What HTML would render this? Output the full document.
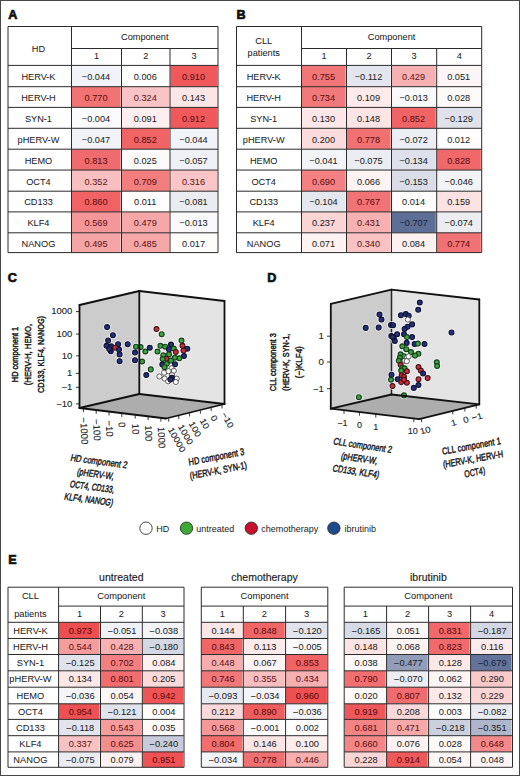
<!DOCTYPE html>
<html><head><meta charset="utf-8"><style>
html,body{margin:0;padding:0;background:#fff;}
svg{display:block;}
text{font-family:"Liberation Sans", sans-serif;}
</style></head><body>
<svg width="520" height="776" viewBox="0 0 520 776" font-family='"Liberation Sans", sans-serif'>
<rect x="0" y="0" width="520" height="776" fill="#fff"/>
<text x="8.20" y="18.80" font-size="12.6" text-anchor="start" fill="#111" font-weight="bold" stroke="#111" stroke-width="0.7">A</text>
<text x="236.50" y="18.80" font-size="12.6" text-anchor="start" fill="#111" font-weight="bold" stroke="#111" stroke-width="0.7">B</text>
<text x="7.80" y="282.00" font-size="12.6" text-anchor="start" fill="#111" font-weight="bold" stroke="#111" stroke-width="0.7">C</text>
<text x="267.20" y="281.80" font-size="12.6" text-anchor="start" fill="#111" font-weight="bold" stroke="#111" stroke-width="0.7">D</text>
<text x="8.20" y="563.80" font-size="12.6" text-anchor="start" fill="#111" font-weight="bold" stroke="#111" stroke-width="0.7">E</text>
<rect x="71.90" y="65.40" width="48.70" height="21.30" fill="#f2f3f8"/>
<rect x="121.90" y="65.40" width="47.20" height="21.30" fill="#fffefe"/>
<rect x="170.40" y="65.40" width="46.70" height="21.30" fill="#ef595b"/>
<rect x="71.90" y="86.70" width="48.70" height="20.70" fill="#f17374"/>
<rect x="121.90" y="86.70" width="47.20" height="20.70" fill="#f9c4c5"/>
<rect x="170.40" y="86.70" width="46.70" height="20.70" fill="#fce5e5"/>
<rect x="71.90" y="107.40" width="48.70" height="20.90" fill="#fbfbfd"/>
<rect x="121.90" y="107.40" width="47.20" height="20.90" fill="#fdeeef"/>
<rect x="170.40" y="107.40" width="46.70" height="20.90" fill="#ef595b"/>
<rect x="71.90" y="128.30" width="48.70" height="20.90" fill="#f1f3f7"/>
<rect x="121.90" y="128.30" width="47.20" height="20.90" fill="#f06466"/>
<rect x="170.40" y="128.30" width="46.70" height="20.90" fill="#f2f3f8"/>
<rect x="71.90" y="149.20" width="48.70" height="20.85" fill="#f06b6d"/>
<rect x="121.90" y="149.20" width="47.20" height="20.85" fill="#fffafa"/>
<rect x="170.40" y="149.20" width="46.70" height="20.85" fill="#eff1f6"/>
<rect x="71.90" y="170.05" width="48.70" height="21.15" fill="#f9bfc0"/>
<rect x="121.90" y="170.05" width="47.20" height="21.15" fill="#f27e7f"/>
<rect x="170.40" y="170.05" width="46.70" height="21.15" fill="#f9c5c6"/>
<rect x="71.90" y="191.20" width="48.70" height="20.70" fill="#f06264"/>
<rect x="121.90" y="191.20" width="47.20" height="20.70" fill="#fffdfd"/>
<rect x="170.40" y="191.20" width="46.70" height="20.70" fill="#eaecf2"/>
<rect x="71.90" y="211.90" width="48.70" height="20.90" fill="#f59799"/>
<rect x="121.90" y="211.90" width="47.20" height="20.90" fill="#f6a8a9"/>
<rect x="170.40" y="211.90" width="46.70" height="20.90" fill="#f9f9fc"/>
<rect x="71.90" y="232.80" width="48.70" height="19.80" fill="#f6a5a6"/>
<rect x="121.90" y="232.80" width="47.20" height="19.80" fill="#f6a7a8"/>
<rect x="170.40" y="232.80" width="46.70" height="19.80" fill="#fffcfc"/>
<line x1="8" y1="26.5" x2="218" y2="26.5" stroke="#2b2b2b" stroke-width="1.0"/>
<line x1="71.5" y1="48.5" x2="218" y2="48.5" stroke="#2b2b2b" stroke-width="1.0"/>
<line x1="8" y1="65.4" x2="218" y2="65.4" stroke="#2b2b2b" stroke-width="1.0"/>
<line x1="8" y1="86.7" x2="218" y2="86.7" stroke="#2b2b2b" stroke-width="1.0"/>
<line x1="8" y1="107.4" x2="218" y2="107.4" stroke="#2b2b2b" stroke-width="1.0"/>
<line x1="8" y1="128.3" x2="218" y2="128.3" stroke="#2b2b2b" stroke-width="1.0"/>
<line x1="8" y1="149.2" x2="218" y2="149.2" stroke="#2b2b2b" stroke-width="1.0"/>
<line x1="8" y1="170.05" x2="218" y2="170.05" stroke="#2b2b2b" stroke-width="1.0"/>
<line x1="8" y1="191.2" x2="218" y2="191.2" stroke="#2b2b2b" stroke-width="1.0"/>
<line x1="8" y1="211.9" x2="218" y2="211.9" stroke="#2b2b2b" stroke-width="1.0"/>
<line x1="8" y1="232.8" x2="218" y2="232.8" stroke="#2b2b2b" stroke-width="1.0"/>
<line x1="8" y1="252.6" x2="218" y2="252.6" stroke="#2b2b2b" stroke-width="1.0"/>
<line x1="8" y1="26.5" x2="8" y2="252.6" stroke="#2b2b2b" stroke-width="1.0"/>
<line x1="71.5" y1="26.5" x2="71.5" y2="252.6" stroke="#2b2b2b" stroke-width="1.0"/>
<line x1="121.5" y1="48.5" x2="121.5" y2="252.6" stroke="#2b2b2b" stroke-width="1.0"/>
<line x1="170" y1="48.5" x2="170" y2="252.6" stroke="#2b2b2b" stroke-width="1.0"/>
<line x1="218" y1="26.5" x2="218" y2="252.6" stroke="#2b2b2b" stroke-width="1.0"/>
<text x="0" y="0" font-size="9.20" text-anchor="middle" fill="#222" stroke="#222" stroke-width="0.04" transform="translate(144.75 39.80) scale(1.000 1.0)">Component</text>
<text x="0" y="0" font-size="9.20" text-anchor="middle" fill="#222" stroke="#222" stroke-width="0.04" transform="translate(96.50 58.86) scale(1.000 1.0)">1</text>
<text x="0" y="0" font-size="9.20" text-anchor="middle" fill="#222" stroke="#222" stroke-width="0.04" transform="translate(145.75 58.86) scale(1.000 1.0)">2</text>
<text x="0" y="0" font-size="9.20" text-anchor="middle" fill="#222" stroke="#222" stroke-width="0.04" transform="translate(194.00 58.86) scale(1.000 1.0)">3</text>
<text x="0" y="0" font-size="9.20" text-anchor="middle" fill="#222" stroke="#222" stroke-width="0.04" transform="translate(38.45 52.20) scale(1.000 1.0)">HD</text>
<text x="0" y="0" font-size="9.20" text-anchor="middle" fill="#222" stroke="#222" stroke-width="0.04" transform="translate(38.45 79.99) scale(1.000 1.0)">HERV-K</text>
<text x="0" y="0" font-size="9.20" text-anchor="middle" fill="#222" stroke="#222" stroke-width="0.04" transform="translate(38.45 100.99) scale(1.000 1.0)">HERV-H</text>
<text x="0" y="0" font-size="9.20" text-anchor="middle" fill="#222" stroke="#222" stroke-width="0.04" transform="translate(38.45 121.79) scale(1.000 1.0)">SYN-1</text>
<text x="0" y="0" font-size="9.20" text-anchor="middle" fill="#222" stroke="#222" stroke-width="0.04" transform="translate(38.45 142.69) scale(1.000 1.0)">pHERV-W</text>
<text x="0" y="0" font-size="9.20" text-anchor="middle" fill="#222" stroke="#222" stroke-width="0.04" transform="translate(38.45 163.57) scale(1.000 1.0)">HEMO</text>
<text x="0" y="0" font-size="9.20" text-anchor="middle" fill="#222" stroke="#222" stroke-width="0.04" transform="translate(38.45 184.57) scale(1.000 1.0)">OCT4</text>
<text x="0" y="0" font-size="9.20" text-anchor="middle" fill="#222" stroke="#222" stroke-width="0.04" transform="translate(38.45 205.49) scale(1.000 1.0)">CD133</text>
<text x="0" y="0" font-size="9.20" text-anchor="middle" fill="#222" stroke="#222" stroke-width="0.04" transform="translate(38.45 226.29) scale(1.000 1.0)">KLF4</text>
<text x="0" y="0" font-size="9.20" text-anchor="middle" fill="#222" stroke="#222" stroke-width="0.04" transform="translate(38.45 246.64) scale(1.000 1.0)">NANOG</text>
<text x="0" y="0" font-size="9.20" text-anchor="middle" fill="#1c1c1c" stroke="#1c1c1c" stroke-width="0.04" transform="translate(96.00 79.99) scale(1.000 1.0)">&#8722;0.044</text>
<text x="0" y="0" font-size="9.20" text-anchor="middle" fill="#1c1c1c" stroke="#1c1c1c" stroke-width="0.04" transform="translate(145.25 79.99) scale(1.000 1.0)">0.006</text>
<text x="0" y="0" font-size="9.20" text-anchor="middle" fill="#5b0b0d" stroke="#5b0b0d" stroke-width="0.04" transform="translate(193.50 79.99) scale(1.000 1.0)">0.910</text>
<text x="0" y="0" font-size="9.20" text-anchor="middle" fill="#5c0e10" stroke="#5c0e10" stroke-width="0.04" transform="translate(96.00 100.99) scale(1.000 1.0)">0.770</text>
<text x="0" y="0" font-size="9.20" text-anchor="middle" fill="#5f181c" stroke="#5f181c" stroke-width="0.04" transform="translate(145.25 100.99) scale(1.000 1.0)">0.324</text>
<text x="0" y="0" font-size="9.20" text-anchor="middle" fill="#1c1c1c" stroke="#1c1c1c" stroke-width="0.04" transform="translate(193.50 100.99) scale(1.000 1.0)">0.143</text>
<text x="0" y="0" font-size="9.20" text-anchor="middle" fill="#1c1c1c" stroke="#1c1c1c" stroke-width="0.04" transform="translate(96.00 121.79) scale(1.000 1.0)">&#8722;0.004</text>
<text x="0" y="0" font-size="9.20" text-anchor="middle" fill="#1c1c1c" stroke="#1c1c1c" stroke-width="0.04" transform="translate(145.25 121.79) scale(1.000 1.0)">0.091</text>
<text x="0" y="0" font-size="9.20" text-anchor="middle" fill="#5b0b0d" stroke="#5b0b0d" stroke-width="0.04" transform="translate(193.50 121.79) scale(1.000 1.0)">0.912</text>
<text x="0" y="0" font-size="9.20" text-anchor="middle" fill="#1c1c1c" stroke="#1c1c1c" stroke-width="0.04" transform="translate(96.00 142.69) scale(1.000 1.0)">&#8722;0.047</text>
<text x="0" y="0" font-size="9.20" text-anchor="middle" fill="#5b0c0e" stroke="#5b0c0e" stroke-width="0.04" transform="translate(145.25 142.69) scale(1.000 1.0)">0.852</text>
<text x="0" y="0" font-size="9.20" text-anchor="middle" fill="#1c1c1c" stroke="#1c1c1c" stroke-width="0.04" transform="translate(193.50 142.69) scale(1.000 1.0)">&#8722;0.044</text>
<text x="0" y="0" font-size="9.20" text-anchor="middle" fill="#5b0d0f" stroke="#5b0d0f" stroke-width="0.04" transform="translate(96.00 163.57) scale(1.000 1.0)">0.813</text>
<text x="0" y="0" font-size="9.20" text-anchor="middle" fill="#1c1c1c" stroke="#1c1c1c" stroke-width="0.04" transform="translate(145.25 163.57) scale(1.000 1.0)">0.025</text>
<text x="0" y="0" font-size="9.20" text-anchor="middle" fill="#1c1c1c" stroke="#1c1c1c" stroke-width="0.04" transform="translate(193.50 163.57) scale(1.000 1.0)">&#8722;0.057</text>
<text x="0" y="0" font-size="9.20" text-anchor="middle" fill="#5e171b" stroke="#5e171b" stroke-width="0.04" transform="translate(96.00 184.57) scale(1.000 1.0)">0.352</text>
<text x="0" y="0" font-size="9.20" text-anchor="middle" fill="#5c0f12" stroke="#5c0f12" stroke-width="0.04" transform="translate(145.25 184.57) scale(1.000 1.0)">0.709</text>
<text x="0" y="0" font-size="9.20" text-anchor="middle" fill="#5f181c" stroke="#5f181c" stroke-width="0.04" transform="translate(193.50 184.57) scale(1.000 1.0)">0.316</text>
<text x="0" y="0" font-size="9.20" text-anchor="middle" fill="#5b0c0e" stroke="#5b0c0e" stroke-width="0.04" transform="translate(96.00 205.49) scale(1.000 1.0)">0.860</text>
<text x="0" y="0" font-size="9.20" text-anchor="middle" fill="#1c1c1c" stroke="#1c1c1c" stroke-width="0.04" transform="translate(145.25 205.49) scale(1.000 1.0)">0.011</text>
<text x="0" y="0" font-size="9.20" text-anchor="middle" fill="#1c1c1c" stroke="#1c1c1c" stroke-width="0.04" transform="translate(193.50 205.49) scale(1.000 1.0)">&#8722;0.081</text>
<text x="0" y="0" font-size="9.20" text-anchor="middle" fill="#5d1215" stroke="#5d1215" stroke-width="0.04" transform="translate(96.00 226.29) scale(1.000 1.0)">0.569</text>
<text x="0" y="0" font-size="9.20" text-anchor="middle" fill="#5e1418" stroke="#5e1418" stroke-width="0.04" transform="translate(145.25 226.29) scale(1.000 1.0)">0.479</text>
<text x="0" y="0" font-size="9.20" text-anchor="middle" fill="#1c1c1c" stroke="#1c1c1c" stroke-width="0.04" transform="translate(193.50 226.29) scale(1.000 1.0)">&#8722;0.013</text>
<text x="0" y="0" font-size="9.20" text-anchor="middle" fill="#5e1417" stroke="#5e1417" stroke-width="0.04" transform="translate(96.00 246.64) scale(1.000 1.0)">0.495</text>
<text x="0" y="0" font-size="9.20" text-anchor="middle" fill="#5e1417" stroke="#5e1417" stroke-width="0.04" transform="translate(145.25 246.64) scale(1.000 1.0)">0.485</text>
<text x="0" y="0" font-size="9.20" text-anchor="middle" fill="#1c1c1c" stroke="#1c1c1c" stroke-width="0.04" transform="translate(193.50 246.64) scale(1.000 1.0)">0.017</text>
<rect x="301.90" y="65.40" width="43.70" height="21.30" fill="#f17677"/>
<rect x="346.90" y="65.40" width="43.70" height="21.30" fill="#e3e6ee"/>
<rect x="391.90" y="65.40" width="43.90" height="21.30" fill="#f7b1b2"/>
<rect x="437.10" y="65.40" width="43.70" height="21.30" fill="#fef6f6"/>
<rect x="301.90" y="86.70" width="43.70" height="20.70" fill="#f2797b"/>
<rect x="346.90" y="86.70" width="43.70" height="20.70" fill="#fdebeb"/>
<rect x="391.90" y="86.70" width="43.90" height="20.70" fill="#f9f9fc"/>
<rect x="437.10" y="86.70" width="43.70" height="20.70" fill="#fefafa"/>
<rect x="301.90" y="107.40" width="43.70" height="20.90" fill="#fde7e8"/>
<rect x="346.90" y="107.40" width="43.70" height="20.90" fill="#fce4e4"/>
<rect x="391.90" y="107.40" width="43.90" height="20.90" fill="#f06466"/>
<rect x="437.10" y="107.40" width="43.70" height="20.90" fill="#dfe2eb"/>
<rect x="301.90" y="128.30" width="43.70" height="20.90" fill="#fbdbdb"/>
<rect x="346.90" y="128.30" width="43.70" height="20.90" fill="#f17173"/>
<rect x="391.90" y="128.30" width="43.90" height="20.90" fill="#eceef4"/>
<rect x="437.10" y="128.30" width="43.70" height="20.90" fill="#fffdfd"/>
<rect x="301.90" y="149.20" width="43.70" height="20.85" fill="#f3f4f8"/>
<rect x="346.90" y="149.20" width="43.70" height="20.85" fill="#ebedf3"/>
<rect x="391.90" y="149.20" width="43.90" height="20.85" fill="#dee1eb"/>
<rect x="437.10" y="149.20" width="43.70" height="20.85" fill="#f0686a"/>
<rect x="301.90" y="170.05" width="43.70" height="21.15" fill="#f38183"/>
<rect x="346.90" y="170.05" width="43.70" height="21.15" fill="#fef3f3"/>
<rect x="391.90" y="170.05" width="43.90" height="21.15" fill="#dadde8"/>
<rect x="437.10" y="170.05" width="43.70" height="21.15" fill="#f2f3f7"/>
<rect x="301.90" y="191.20" width="43.70" height="20.70" fill="#e5e7ef"/>
<rect x="346.90" y="191.20" width="43.70" height="20.70" fill="#f17375"/>
<rect x="391.90" y="191.20" width="43.90" height="20.70" fill="#fffcfc"/>
<rect x="437.10" y="191.20" width="43.70" height="20.70" fill="#fce2e2"/>
<rect x="301.90" y="211.90" width="43.70" height="20.90" fill="#fbd4d4"/>
<rect x="346.90" y="211.90" width="43.70" height="20.90" fill="#f7b1b1"/>
<rect x="391.90" y="211.90" width="43.90" height="20.90" fill="#5d6f97"/>
<rect x="437.10" y="211.90" width="43.70" height="20.90" fill="#ebedf3"/>
<rect x="301.90" y="232.80" width="43.70" height="19.80" fill="#fef2f2"/>
<rect x="346.90" y="232.80" width="43.70" height="19.80" fill="#f9c1c2"/>
<rect x="391.90" y="232.80" width="43.90" height="19.80" fill="#fdf0f0"/>
<rect x="437.10" y="232.80" width="43.70" height="19.80" fill="#f17274"/>
<line x1="236.5" y1="26.5" x2="481.7" y2="26.5" stroke="#2b2b2b" stroke-width="1.0"/>
<line x1="301.5" y1="48.5" x2="481.7" y2="48.5" stroke="#2b2b2b" stroke-width="1.0"/>
<line x1="236.5" y1="65.4" x2="481.7" y2="65.4" stroke="#2b2b2b" stroke-width="1.0"/>
<line x1="236.5" y1="86.7" x2="481.7" y2="86.7" stroke="#2b2b2b" stroke-width="1.0"/>
<line x1="236.5" y1="107.4" x2="481.7" y2="107.4" stroke="#2b2b2b" stroke-width="1.0"/>
<line x1="236.5" y1="128.3" x2="481.7" y2="128.3" stroke="#2b2b2b" stroke-width="1.0"/>
<line x1="236.5" y1="149.2" x2="481.7" y2="149.2" stroke="#2b2b2b" stroke-width="1.0"/>
<line x1="236.5" y1="170.05" x2="481.7" y2="170.05" stroke="#2b2b2b" stroke-width="1.0"/>
<line x1="236.5" y1="191.2" x2="481.7" y2="191.2" stroke="#2b2b2b" stroke-width="1.0"/>
<line x1="236.5" y1="211.9" x2="481.7" y2="211.9" stroke="#2b2b2b" stroke-width="1.0"/>
<line x1="236.5" y1="232.8" x2="481.7" y2="232.8" stroke="#2b2b2b" stroke-width="1.0"/>
<line x1="236.5" y1="252.6" x2="481.7" y2="252.6" stroke="#2b2b2b" stroke-width="1.0"/>
<line x1="236.5" y1="26.5" x2="236.5" y2="252.6" stroke="#2b2b2b" stroke-width="1.0"/>
<line x1="301.5" y1="26.5" x2="301.5" y2="252.6" stroke="#2b2b2b" stroke-width="1.0"/>
<line x1="346.5" y1="48.5" x2="346.5" y2="252.6" stroke="#2b2b2b" stroke-width="1.0"/>
<line x1="391.5" y1="48.5" x2="391.5" y2="252.6" stroke="#2b2b2b" stroke-width="1.0"/>
<line x1="436.7" y1="48.5" x2="436.7" y2="252.6" stroke="#2b2b2b" stroke-width="1.0"/>
<line x1="481.7" y1="26.5" x2="481.7" y2="252.6" stroke="#2b2b2b" stroke-width="1.0"/>
<text x="0" y="0" font-size="9.20" text-anchor="middle" fill="#222" stroke="#222" stroke-width="0.04" transform="translate(391.60 39.80) scale(1.000 1.0)">Component</text>
<text x="0" y="0" font-size="9.20" text-anchor="middle" fill="#222" stroke="#222" stroke-width="0.04" transform="translate(324.00 58.86) scale(1.000 1.0)">1</text>
<text x="0" y="0" font-size="9.20" text-anchor="middle" fill="#222" stroke="#222" stroke-width="0.04" transform="translate(369.00 58.86) scale(1.000 1.0)">2</text>
<text x="0" y="0" font-size="9.20" text-anchor="middle" fill="#222" stroke="#222" stroke-width="0.04" transform="translate(414.10 58.86) scale(1.000 1.0)">3</text>
<text x="0" y="0" font-size="9.20" text-anchor="middle" fill="#222" stroke="#222" stroke-width="0.04" transform="translate(459.20 58.86) scale(1.000 1.0)">4</text>
<text x="0" y="0" font-size="9.20" text-anchor="middle" fill="#222" stroke="#222" stroke-width="0.04" transform="translate(263.70 44.30) scale(1.000 1.0)">CLL</text>
<text x="0" y="0" font-size="9.20" text-anchor="middle" fill="#222" stroke="#222" stroke-width="0.04" transform="translate(263.70 56.30) scale(1.000 1.0)">patients</text>
<text x="0" y="0" font-size="9.20" text-anchor="middle" fill="#222" stroke="#222" stroke-width="0.04" transform="translate(263.70 79.99) scale(1.000 1.0)">HERV-K</text>
<text x="0" y="0" font-size="9.20" text-anchor="middle" fill="#222" stroke="#222" stroke-width="0.04" transform="translate(263.70 100.99) scale(1.000 1.0)">HERV-H</text>
<text x="0" y="0" font-size="9.20" text-anchor="middle" fill="#222" stroke="#222" stroke-width="0.04" transform="translate(263.70 121.79) scale(1.000 1.0)">SYN-1</text>
<text x="0" y="0" font-size="9.20" text-anchor="middle" fill="#222" stroke="#222" stroke-width="0.04" transform="translate(263.70 142.69) scale(1.000 1.0)">pHERV-W</text>
<text x="0" y="0" font-size="9.20" text-anchor="middle" fill="#222" stroke="#222" stroke-width="0.04" transform="translate(263.70 163.57) scale(1.000 1.0)">HEMO</text>
<text x="0" y="0" font-size="9.20" text-anchor="middle" fill="#222" stroke="#222" stroke-width="0.04" transform="translate(263.70 184.57) scale(1.000 1.0)">OCT4</text>
<text x="0" y="0" font-size="9.20" text-anchor="middle" fill="#222" stroke="#222" stroke-width="0.04" transform="translate(263.70 205.49) scale(1.000 1.0)">CD133</text>
<text x="0" y="0" font-size="9.20" text-anchor="middle" fill="#222" stroke="#222" stroke-width="0.04" transform="translate(263.70 226.29) scale(1.000 1.0)">KLF4</text>
<text x="0" y="0" font-size="9.20" text-anchor="middle" fill="#222" stroke="#222" stroke-width="0.04" transform="translate(263.70 246.64) scale(1.000 1.0)">NANOG</text>
<text x="0" y="0" font-size="9.20" text-anchor="middle" fill="#5c0e11" stroke="#5c0e11" stroke-width="0.04" transform="translate(323.50 79.99) scale(1.000 1.0)">0.755</text>
<text x="0" y="0" font-size="9.20" text-anchor="middle" fill="#1c1c1c" stroke="#1c1c1c" stroke-width="0.04" transform="translate(368.50 79.99) scale(1.000 1.0)">&#8722;0.112</text>
<text x="0" y="0" font-size="9.20" text-anchor="middle" fill="#5e1519" stroke="#5e1519" stroke-width="0.04" transform="translate(413.60 79.99) scale(1.000 1.0)">0.429</text>
<text x="0" y="0" font-size="9.20" text-anchor="middle" fill="#1c1c1c" stroke="#1c1c1c" stroke-width="0.04" transform="translate(458.70 79.99) scale(1.000 1.0)">0.051</text>
<text x="0" y="0" font-size="9.20" text-anchor="middle" fill="#5c0f11" stroke="#5c0f11" stroke-width="0.04" transform="translate(323.50 100.99) scale(1.000 1.0)">0.734</text>
<text x="0" y="0" font-size="9.20" text-anchor="middle" fill="#1c1c1c" stroke="#1c1c1c" stroke-width="0.04" transform="translate(368.50 100.99) scale(1.000 1.0)">0.109</text>
<text x="0" y="0" font-size="9.20" text-anchor="middle" fill="#1c1c1c" stroke="#1c1c1c" stroke-width="0.04" transform="translate(413.60 100.99) scale(1.000 1.0)">&#8722;0.013</text>
<text x="0" y="0" font-size="9.20" text-anchor="middle" fill="#1c1c1c" stroke="#1c1c1c" stroke-width="0.04" transform="translate(458.70 100.99) scale(1.000 1.0)">0.028</text>
<text x="0" y="0" font-size="9.20" text-anchor="middle" fill="#1c1c1c" stroke="#1c1c1c" stroke-width="0.04" transform="translate(323.50 121.79) scale(1.000 1.0)">0.130</text>
<text x="0" y="0" font-size="9.20" text-anchor="middle" fill="#1c1c1c" stroke="#1c1c1c" stroke-width="0.04" transform="translate(368.50 121.79) scale(1.000 1.0)">0.148</text>
<text x="0" y="0" font-size="9.20" text-anchor="middle" fill="#5b0c0e" stroke="#5b0c0e" stroke-width="0.04" transform="translate(413.60 121.79) scale(1.000 1.0)">0.852</text>
<text x="0" y="0" font-size="9.20" text-anchor="middle" fill="#1c1c1c" stroke="#1c1c1c" stroke-width="0.04" transform="translate(458.70 121.79) scale(1.000 1.0)">&#8722;0.129</text>
<text x="0" y="0" font-size="9.20" text-anchor="middle" fill="#1c1c1c" stroke="#1c1c1c" stroke-width="0.04" transform="translate(323.50 142.69) scale(1.000 1.0)">0.200</text>
<text x="0" y="0" font-size="9.20" text-anchor="middle" fill="#5c0e10" stroke="#5c0e10" stroke-width="0.04" transform="translate(368.50 142.69) scale(1.000 1.0)">0.778</text>
<text x="0" y="0" font-size="9.20" text-anchor="middle" fill="#1c1c1c" stroke="#1c1c1c" stroke-width="0.04" transform="translate(413.60 142.69) scale(1.000 1.0)">&#8722;0.072</text>
<text x="0" y="0" font-size="9.20" text-anchor="middle" fill="#1c1c1c" stroke="#1c1c1c" stroke-width="0.04" transform="translate(458.70 142.69) scale(1.000 1.0)">0.012</text>
<text x="0" y="0" font-size="9.20" text-anchor="middle" fill="#1c1c1c" stroke="#1c1c1c" stroke-width="0.04" transform="translate(323.50 163.57) scale(1.000 1.0)">&#8722;0.041</text>
<text x="0" y="0" font-size="9.20" text-anchor="middle" fill="#1c1c1c" stroke="#1c1c1c" stroke-width="0.04" transform="translate(368.50 163.57) scale(1.000 1.0)">&#8722;0.075</text>
<text x="0" y="0" font-size="9.20" text-anchor="middle" fill="#1c1c1c" stroke="#1c1c1c" stroke-width="0.04" transform="translate(413.60 163.57) scale(1.000 1.0)">&#8722;0.134</text>
<text x="0" y="0" font-size="9.20" text-anchor="middle" fill="#5b0d0f" stroke="#5b0d0f" stroke-width="0.04" transform="translate(458.70 163.57) scale(1.000 1.0)">0.828</text>
<text x="0" y="0" font-size="9.20" text-anchor="middle" fill="#5c1012" stroke="#5c1012" stroke-width="0.04" transform="translate(323.50 184.57) scale(1.000 1.0)">0.690</text>
<text x="0" y="0" font-size="9.20" text-anchor="middle" fill="#1c1c1c" stroke="#1c1c1c" stroke-width="0.04" transform="translate(368.50 184.57) scale(1.000 1.0)">0.066</text>
<text x="0" y="0" font-size="9.20" text-anchor="middle" fill="#1c1c1c" stroke="#1c1c1c" stroke-width="0.04" transform="translate(413.60 184.57) scale(1.000 1.0)">&#8722;0.153</text>
<text x="0" y="0" font-size="9.20" text-anchor="middle" fill="#1c1c1c" stroke="#1c1c1c" stroke-width="0.04" transform="translate(458.70 184.57) scale(1.000 1.0)">&#8722;0.046</text>
<text x="0" y="0" font-size="9.20" text-anchor="middle" fill="#1c1c1c" stroke="#1c1c1c" stroke-width="0.04" transform="translate(323.50 205.49) scale(1.000 1.0)">&#8722;0.104</text>
<text x="0" y="0" font-size="9.20" text-anchor="middle" fill="#5c0e10" stroke="#5c0e10" stroke-width="0.04" transform="translate(368.50 205.49) scale(1.000 1.0)">0.767</text>
<text x="0" y="0" font-size="9.20" text-anchor="middle" fill="#1c1c1c" stroke="#1c1c1c" stroke-width="0.04" transform="translate(413.60 205.49) scale(1.000 1.0)">0.014</text>
<text x="0" y="0" font-size="9.20" text-anchor="middle" fill="#1c1c1c" stroke="#1c1c1c" stroke-width="0.04" transform="translate(458.70 205.49) scale(1.000 1.0)">0.159</text>
<text x="0" y="0" font-size="9.20" text-anchor="middle" fill="#1c1c1c" stroke="#1c1c1c" stroke-width="0.04" transform="translate(323.50 226.29) scale(1.000 1.0)">0.237</text>
<text x="0" y="0" font-size="9.20" text-anchor="middle" fill="#5e1519" stroke="#5e1519" stroke-width="0.04" transform="translate(368.50 226.29) scale(1.000 1.0)">0.431</text>
<text x="0" y="0" font-size="9.20" text-anchor="middle" fill="#1a2038" stroke="#1a2038" stroke-width="0.04" transform="translate(413.60 226.29) scale(1.000 1.0)">&#8722;0.707</text>
<text x="0" y="0" font-size="9.20" text-anchor="middle" fill="#1c1c1c" stroke="#1c1c1c" stroke-width="0.04" transform="translate(458.70 226.29) scale(1.000 1.0)">&#8722;0.074</text>
<text x="0" y="0" font-size="9.20" text-anchor="middle" fill="#1c1c1c" stroke="#1c1c1c" stroke-width="0.04" transform="translate(323.50 246.64) scale(1.000 1.0)">0.071</text>
<text x="0" y="0" font-size="9.20" text-anchor="middle" fill="#5f171b" stroke="#5f171b" stroke-width="0.04" transform="translate(368.50 246.64) scale(1.000 1.0)">0.340</text>
<text x="0" y="0" font-size="9.20" text-anchor="middle" fill="#1c1c1c" stroke="#1c1c1c" stroke-width="0.04" transform="translate(413.60 246.64) scale(1.000 1.0)">0.084</text>
<text x="0" y="0" font-size="9.20" text-anchor="middle" fill="#5c0e10" stroke="#5c0e10" stroke-width="0.04" transform="translate(458.70 246.64) scale(1.000 1.0)">0.774</text>
<rect x="59.00" y="622.30" width="40.60" height="16.20" fill="#ed4e50"/>
<rect x="100.90" y="622.30" width="40.50" height="16.20" fill="#f1f2f7"/>
<rect x="142.70" y="622.30" width="40.40" height="16.20" fill="#f3f4f8"/>
<rect x="59.00" y="638.50" width="40.60" height="16.00" fill="#f59c9d"/>
<rect x="100.90" y="638.50" width="40.50" height="16.00" fill="#f7b1b2"/>
<rect x="142.70" y="638.50" width="40.40" height="16.00" fill="#d4d8e4"/>
<rect x="59.00" y="654.50" width="40.60" height="16.30" fill="#e0e3ec"/>
<rect x="100.90" y="654.50" width="40.50" height="16.30" fill="#f27f81"/>
<rect x="142.70" y="654.50" width="40.40" height="16.30" fill="#fdf0f0"/>
<rect x="59.00" y="670.80" width="40.60" height="16.40" fill="#fde7e7"/>
<rect x="100.90" y="670.80" width="40.50" height="16.40" fill="#f16d6f"/>
<rect x="142.70" y="670.80" width="40.40" height="16.40" fill="#fbdada"/>
<rect x="59.00" y="687.20" width="40.60" height="16.60" fill="#f4f5f9"/>
<rect x="100.90" y="687.20" width="40.50" height="16.60" fill="#fef5f5"/>
<rect x="142.70" y="687.20" width="40.40" height="16.60" fill="#ee5455"/>
<rect x="59.00" y="703.80" width="40.60" height="15.60" fill="#ee5153"/>
<rect x="100.90" y="703.80" width="40.50" height="15.60" fill="#e1e4ec"/>
<rect x="142.70" y="703.80" width="40.40" height="15.60" fill="#fffefe"/>
<rect x="59.00" y="719.40" width="40.60" height="16.30" fill="#e1e4ed"/>
<rect x="100.90" y="719.40" width="40.50" height="16.30" fill="#f59c9d"/>
<rect x="142.70" y="719.40" width="40.40" height="16.30" fill="#fef9f9"/>
<rect x="59.00" y="735.70" width="40.60" height="16.20" fill="#f9c2c2"/>
<rect x="100.90" y="735.70" width="40.50" height="16.20" fill="#f48d8e"/>
<rect x="142.70" y="735.70" width="40.40" height="16.20" fill="#c6ccdb"/>
<rect x="59.00" y="751.90" width="40.60" height="15.40" fill="#ebedf3"/>
<rect x="100.90" y="751.90" width="40.50" height="15.40" fill="#fef1f1"/>
<rect x="142.70" y="751.90" width="40.40" height="15.40" fill="#ee5254"/>
<line x1="8" y1="587.2" x2="184" y2="587.2" stroke="#2b2b2b" stroke-width="1.0"/>
<line x1="58.6" y1="606.1" x2="184" y2="606.1" stroke="#2b2b2b" stroke-width="1.0"/>
<line x1="8" y1="622.3" x2="184" y2="622.3" stroke="#2b2b2b" stroke-width="1.0"/>
<line x1="8" y1="638.5" x2="184" y2="638.5" stroke="#2b2b2b" stroke-width="1.0"/>
<line x1="8" y1="654.5" x2="184" y2="654.5" stroke="#2b2b2b" stroke-width="1.0"/>
<line x1="8" y1="670.8" x2="184" y2="670.8" stroke="#2b2b2b" stroke-width="1.0"/>
<line x1="8" y1="687.2" x2="184" y2="687.2" stroke="#2b2b2b" stroke-width="1.0"/>
<line x1="8" y1="703.8" x2="184" y2="703.8" stroke="#2b2b2b" stroke-width="1.0"/>
<line x1="8" y1="719.4" x2="184" y2="719.4" stroke="#2b2b2b" stroke-width="1.0"/>
<line x1="8" y1="735.7" x2="184" y2="735.7" stroke="#2b2b2b" stroke-width="1.0"/>
<line x1="8" y1="751.9" x2="184" y2="751.9" stroke="#2b2b2b" stroke-width="1.0"/>
<line x1="8" y1="767.3" x2="184" y2="767.3" stroke="#2b2b2b" stroke-width="1.0"/>
<line x1="8" y1="587.2" x2="8" y2="767.3" stroke="#2b2b2b" stroke-width="1.0"/>
<line x1="58.6" y1="587.2" x2="58.6" y2="767.3" stroke="#2b2b2b" stroke-width="1.0"/>
<line x1="100.5" y1="606.1" x2="100.5" y2="767.3" stroke="#2b2b2b" stroke-width="1.0"/>
<line x1="142.3" y1="606.1" x2="142.3" y2="767.3" stroke="#2b2b2b" stroke-width="1.0"/>
<line x1="184" y1="587.2" x2="184" y2="767.3" stroke="#2b2b2b" stroke-width="1.0"/>
<text x="0" y="0" font-size="9.30" text-anchor="middle" fill="#222" stroke="#222" stroke-width="0.04" transform="translate(121.30 599.40) scale(1.000 0.92)">Component</text>
<text x="0" y="0" font-size="9.30" text-anchor="middle" fill="#222" stroke="#222" stroke-width="0.04" transform="translate(79.55 617.25) scale(1.000 0.92)">1</text>
<text x="0" y="0" font-size="9.30" text-anchor="middle" fill="#222" stroke="#222" stroke-width="0.04" transform="translate(121.40 617.25) scale(1.000 0.92)">2</text>
<text x="0" y="0" font-size="9.30" text-anchor="middle" fill="#222" stroke="#222" stroke-width="0.04" transform="translate(163.15 617.25) scale(1.000 0.92)">3</text>
<text x="0" y="0" font-size="9.30" text-anchor="middle" fill="#222" stroke="#222" stroke-width="0.04" transform="translate(30.40 599.40) scale(1.000 0.92)">CLL</text>
<text x="0" y="0" font-size="9.30" text-anchor="middle" fill="#222" stroke="#222" stroke-width="0.04" transform="translate(30.40 616.80) scale(1.000 0.92)">patients</text>
<text x="0" y="0" font-size="9.30" text-anchor="middle" fill="#222" stroke="#222" stroke-width="0.04" transform="translate(30.40 633.55) scale(1.000 0.92)">HERV-K</text>
<text x="0" y="0" font-size="9.30" text-anchor="middle" fill="#222" stroke="#222" stroke-width="0.04" transform="translate(30.40 649.65) scale(1.000 0.92)">HERV-H</text>
<text x="0" y="0" font-size="9.30" text-anchor="middle" fill="#222" stroke="#222" stroke-width="0.04" transform="translate(30.40 665.80) scale(1.000 0.92)">SYN-1</text>
<text x="0" y="0" font-size="9.30" text-anchor="middle" fill="#222" stroke="#222" stroke-width="0.04" transform="translate(30.40 682.15) scale(1.000 0.92)">pHERV-W</text>
<text x="0" y="0" font-size="9.30" text-anchor="middle" fill="#222" stroke="#222" stroke-width="0.04" transform="translate(30.40 698.65) scale(1.000 0.92)">HEMO</text>
<text x="0" y="0" font-size="9.30" text-anchor="middle" fill="#222" stroke="#222" stroke-width="0.04" transform="translate(30.40 714.75) scale(1.000 0.92)">OCT4</text>
<text x="0" y="0" font-size="9.30" text-anchor="middle" fill="#222" stroke="#222" stroke-width="0.04" transform="translate(30.40 730.70) scale(1.000 0.92)">CD133</text>
<text x="0" y="0" font-size="9.30" text-anchor="middle" fill="#222" stroke="#222" stroke-width="0.04" transform="translate(30.40 746.95) scale(1.000 0.92)">KLF4</text>
<text x="0" y="0" font-size="9.30" text-anchor="middle" fill="#222" stroke="#222" stroke-width="0.04" transform="translate(30.40 762.75) scale(1.000 0.92)">NANOG</text>
<text x="0" y="0" font-size="9.30" text-anchor="middle" fill="#5a090b" stroke="#5a090b" stroke-width="0.04" transform="translate(80.25 633.55) scale(1.000 0.92)">0.973</text>
<text x="0" y="0" font-size="9.30" text-anchor="middle" fill="#1c1c1c" stroke="#1c1c1c" stroke-width="0.04" transform="translate(122.10 633.55) scale(1.000 0.92)">&#8722;0.051</text>
<text x="0" y="0" font-size="9.30" text-anchor="middle" fill="#1c1c1c" stroke="#1c1c1c" stroke-width="0.04" transform="translate(163.85 633.55) scale(1.000 0.92)">&#8722;0.038</text>
<text x="0" y="0" font-size="9.30" text-anchor="middle" fill="#5d1316" stroke="#5d1316" stroke-width="0.04" transform="translate(80.25 649.65) scale(1.000 0.92)">0.544</text>
<text x="0" y="0" font-size="9.30" text-anchor="middle" fill="#5e1519" stroke="#5e1519" stroke-width="0.04" transform="translate(122.10 649.65) scale(1.000 0.92)">0.428</text>
<text x="0" y="0" font-size="9.30" text-anchor="middle" fill="#1c1c1c" stroke="#1c1c1c" stroke-width="0.04" transform="translate(163.85 649.65) scale(1.000 0.92)">&#8722;0.180</text>
<text x="0" y="0" font-size="9.30" text-anchor="middle" fill="#1c1c1c" stroke="#1c1c1c" stroke-width="0.04" transform="translate(80.25 665.80) scale(1.000 0.92)">&#8722;0.125</text>
<text x="0" y="0" font-size="9.30" text-anchor="middle" fill="#5c0f12" stroke="#5c0f12" stroke-width="0.04" transform="translate(122.10 665.80) scale(1.000 0.92)">0.702</text>
<text x="0" y="0" font-size="9.30" text-anchor="middle" fill="#1c1c1c" stroke="#1c1c1c" stroke-width="0.04" transform="translate(163.85 665.80) scale(1.000 0.92)">0.084</text>
<text x="0" y="0" font-size="9.30" text-anchor="middle" fill="#1c1c1c" stroke="#1c1c1c" stroke-width="0.04" transform="translate(80.25 682.15) scale(1.000 0.92)">0.134</text>
<text x="0" y="0" font-size="9.30" text-anchor="middle" fill="#5b0d10" stroke="#5b0d10" stroke-width="0.04" transform="translate(122.10 682.15) scale(1.000 0.92)">0.801</text>
<text x="0" y="0" font-size="9.30" text-anchor="middle" fill="#1c1c1c" stroke="#1c1c1c" stroke-width="0.04" transform="translate(163.85 682.15) scale(1.000 0.92)">0.205</text>
<text x="0" y="0" font-size="9.30" text-anchor="middle" fill="#1c1c1c" stroke="#1c1c1c" stroke-width="0.04" transform="translate(80.25 698.65) scale(1.000 0.92)">&#8722;0.036</text>
<text x="0" y="0" font-size="9.30" text-anchor="middle" fill="#1c1c1c" stroke="#1c1c1c" stroke-width="0.04" transform="translate(122.10 698.65) scale(1.000 0.92)">0.054</text>
<text x="0" y="0" font-size="9.30" text-anchor="middle" fill="#5a0a0c" stroke="#5a0a0c" stroke-width="0.04" transform="translate(163.85 698.65) scale(1.000 0.92)">0.942</text>
<text x="0" y="0" font-size="9.30" text-anchor="middle" fill="#5a0a0c" stroke="#5a0a0c" stroke-width="0.04" transform="translate(80.25 714.75) scale(1.000 0.92)">0.954</text>
<text x="0" y="0" font-size="9.30" text-anchor="middle" fill="#1c1c1c" stroke="#1c1c1c" stroke-width="0.04" transform="translate(122.10 714.75) scale(1.000 0.92)">&#8722;0.121</text>
<text x="0" y="0" font-size="9.30" text-anchor="middle" fill="#1c1c1c" stroke="#1c1c1c" stroke-width="0.04" transform="translate(163.85 714.75) scale(1.000 0.92)">0.004</text>
<text x="0" y="0" font-size="9.30" text-anchor="middle" fill="#1c1c1c" stroke="#1c1c1c" stroke-width="0.04" transform="translate(80.25 730.70) scale(1.000 0.92)">&#8722;0.118</text>
<text x="0" y="0" font-size="9.30" text-anchor="middle" fill="#5d1316" stroke="#5d1316" stroke-width="0.04" transform="translate(122.10 730.70) scale(1.000 0.92)">0.543</text>
<text x="0" y="0" font-size="9.30" text-anchor="middle" fill="#1c1c1c" stroke="#1c1c1c" stroke-width="0.04" transform="translate(163.85 730.70) scale(1.000 0.92)">0.035</text>
<text x="0" y="0" font-size="9.30" text-anchor="middle" fill="#5f171b" stroke="#5f171b" stroke-width="0.04" transform="translate(80.25 746.95) scale(1.000 0.92)">0.337</text>
<text x="0" y="0" font-size="9.30" text-anchor="middle" fill="#5d1114" stroke="#5d1114" stroke-width="0.04" transform="translate(122.10 746.95) scale(1.000 0.92)">0.625</text>
<text x="0" y="0" font-size="9.30" text-anchor="middle" fill="#1c1c1c" stroke="#1c1c1c" stroke-width="0.04" transform="translate(163.85 746.95) scale(1.000 0.92)">&#8722;0.240</text>
<text x="0" y="0" font-size="9.30" text-anchor="middle" fill="#1c1c1c" stroke="#1c1c1c" stroke-width="0.04" transform="translate(80.25 762.75) scale(1.000 0.92)">&#8722;0.075</text>
<text x="0" y="0" font-size="9.30" text-anchor="middle" fill="#1c1c1c" stroke="#1c1c1c" stroke-width="0.04" transform="translate(122.10 762.75) scale(1.000 0.92)">0.079</text>
<text x="0" y="0" font-size="9.30" text-anchor="middle" fill="#5a0a0c" stroke="#5a0a0c" stroke-width="0.04" transform="translate(163.85 762.75) scale(1.000 0.92)">0.951</text>
<rect x="201.70" y="622.30" width="40.70" height="16.20" fill="#fce5e5"/>
<rect x="243.70" y="622.30" width="41.00" height="16.20" fill="#f06566"/>
<rect x="286.00" y="622.30" width="40.90" height="16.20" fill="#e1e4ed"/>
<rect x="201.70" y="638.50" width="40.70" height="16.00" fill="#f06667"/>
<rect x="243.70" y="638.50" width="41.00" height="16.00" fill="#fdeaeb"/>
<rect x="286.00" y="638.50" width="40.90" height="16.00" fill="#fbfbfd"/>
<rect x="201.70" y="654.50" width="40.70" height="16.30" fill="#f7adae"/>
<rect x="243.70" y="654.50" width="41.00" height="16.30" fill="#fef3f3"/>
<rect x="286.00" y="654.50" width="40.90" height="16.30" fill="#f06465"/>
<rect x="201.70" y="670.80" width="40.70" height="16.40" fill="#f27779"/>
<rect x="243.70" y="670.80" width="41.00" height="16.40" fill="#f9bebf"/>
<rect x="286.00" y="670.80" width="40.90" height="16.40" fill="#f7b0b1"/>
<rect x="201.70" y="687.20" width="40.70" height="16.60" fill="#e7e9f1"/>
<rect x="243.70" y="687.20" width="41.00" height="16.60" fill="#f4f5f9"/>
<rect x="286.00" y="687.20" width="40.90" height="16.60" fill="#ee5052"/>
<rect x="201.70" y="703.80" width="40.70" height="15.60" fill="#fbd8d9"/>
<rect x="243.70" y="703.80" width="41.00" height="15.60" fill="#ef5d5f"/>
<rect x="286.00" y="703.80" width="40.90" height="15.60" fill="#f4f5f9"/>
<rect x="201.70" y="719.40" width="40.70" height="16.30" fill="#f59899"/>
<rect x="243.70" y="719.40" width="41.00" height="16.30" fill="#fcfcfe"/>
<rect x="286.00" y="719.40" width="40.90" height="16.30" fill="#ffffff"/>
<rect x="201.70" y="735.70" width="40.70" height="16.20" fill="#f16d6e"/>
<rect x="243.70" y="735.70" width="41.00" height="16.20" fill="#fce4e5"/>
<rect x="286.00" y="735.70" width="40.90" height="16.20" fill="#fdeded"/>
<rect x="201.70" y="751.90" width="40.70" height="15.40" fill="#f4f5f9"/>
<rect x="243.70" y="751.90" width="41.00" height="15.40" fill="#f17173"/>
<rect x="286.00" y="751.90" width="40.90" height="15.40" fill="#f7aeaf"/>
<line x1="201.3" y1="587.2" x2="327.8" y2="587.2" stroke="#2b2b2b" stroke-width="1.0"/>
<line x1="201.3" y1="606.1" x2="327.8" y2="606.1" stroke="#2b2b2b" stroke-width="1.0"/>
<line x1="201.3" y1="622.3" x2="327.8" y2="622.3" stroke="#2b2b2b" stroke-width="1.0"/>
<line x1="201.3" y1="638.5" x2="327.8" y2="638.5" stroke="#2b2b2b" stroke-width="1.0"/>
<line x1="201.3" y1="654.5" x2="327.8" y2="654.5" stroke="#2b2b2b" stroke-width="1.0"/>
<line x1="201.3" y1="670.8" x2="327.8" y2="670.8" stroke="#2b2b2b" stroke-width="1.0"/>
<line x1="201.3" y1="687.2" x2="327.8" y2="687.2" stroke="#2b2b2b" stroke-width="1.0"/>
<line x1="201.3" y1="703.8" x2="327.8" y2="703.8" stroke="#2b2b2b" stroke-width="1.0"/>
<line x1="201.3" y1="719.4" x2="327.8" y2="719.4" stroke="#2b2b2b" stroke-width="1.0"/>
<line x1="201.3" y1="735.7" x2="327.8" y2="735.7" stroke="#2b2b2b" stroke-width="1.0"/>
<line x1="201.3" y1="751.9" x2="327.8" y2="751.9" stroke="#2b2b2b" stroke-width="1.0"/>
<line x1="201.3" y1="767.3" x2="327.8" y2="767.3" stroke="#2b2b2b" stroke-width="1.0"/>
<line x1="201.3" y1="587.2" x2="201.3" y2="767.3" stroke="#2b2b2b" stroke-width="1.0"/>
<line x1="243.3" y1="606.1" x2="243.3" y2="767.3" stroke="#2b2b2b" stroke-width="1.0"/>
<line x1="285.6" y1="606.1" x2="285.6" y2="767.3" stroke="#2b2b2b" stroke-width="1.0"/>
<line x1="327.8" y1="587.2" x2="327.8" y2="767.3" stroke="#2b2b2b" stroke-width="1.0"/>
<text x="0" y="0" font-size="9.30" text-anchor="middle" fill="#222" stroke="#222" stroke-width="0.04" transform="translate(264.55 599.40) scale(1.000 0.92)">Component</text>
<text x="0" y="0" font-size="9.30" text-anchor="middle" fill="#222" stroke="#222" stroke-width="0.04" transform="translate(222.30 617.25) scale(1.000 0.92)">1</text>
<text x="0" y="0" font-size="9.30" text-anchor="middle" fill="#222" stroke="#222" stroke-width="0.04" transform="translate(264.45 617.25) scale(1.000 0.92)">2</text>
<text x="0" y="0" font-size="9.30" text-anchor="middle" fill="#222" stroke="#222" stroke-width="0.04" transform="translate(306.70 617.25) scale(1.000 0.92)">3</text>
<text x="0" y="0" font-size="9.30" text-anchor="middle" fill="#1c1c1c" stroke="#1c1c1c" stroke-width="0.04" transform="translate(223.00 633.55) scale(1.000 0.92)">0.144</text>
<text x="0" y="0" font-size="9.30" text-anchor="middle" fill="#5b0c0e" stroke="#5b0c0e" stroke-width="0.04" transform="translate(265.15 633.55) scale(1.000 0.92)">0.848</text>
<text x="0" y="0" font-size="9.30" text-anchor="middle" fill="#1c1c1c" stroke="#1c1c1c" stroke-width="0.04" transform="translate(307.40 633.55) scale(1.000 0.92)">&#8722;0.120</text>
<text x="0" y="0" font-size="9.30" text-anchor="middle" fill="#5b0c0e" stroke="#5b0c0e" stroke-width="0.04" transform="translate(223.00 649.65) scale(1.000 0.92)">0.843</text>
<text x="0" y="0" font-size="9.30" text-anchor="middle" fill="#1c1c1c" stroke="#1c1c1c" stroke-width="0.04" transform="translate(265.15 649.65) scale(1.000 0.92)">0.113</text>
<text x="0" y="0" font-size="9.30" text-anchor="middle" fill="#1c1c1c" stroke="#1c1c1c" stroke-width="0.04" transform="translate(307.40 649.65) scale(1.000 0.92)">&#8722;0.005</text>
<text x="0" y="0" font-size="9.30" text-anchor="middle" fill="#5e1518" stroke="#5e1518" stroke-width="0.04" transform="translate(223.00 665.80) scale(1.000 0.92)">0.448</text>
<text x="0" y="0" font-size="9.30" text-anchor="middle" fill="#1c1c1c" stroke="#1c1c1c" stroke-width="0.04" transform="translate(265.15 665.80) scale(1.000 0.92)">0.067</text>
<text x="0" y="0" font-size="9.30" text-anchor="middle" fill="#5b0c0e" stroke="#5b0c0e" stroke-width="0.04" transform="translate(307.40 665.80) scale(1.000 0.92)">0.853</text>
<text x="0" y="0" font-size="9.30" text-anchor="middle" fill="#5c0e11" stroke="#5c0e11" stroke-width="0.04" transform="translate(223.00 682.15) scale(1.000 0.92)">0.746</text>
<text x="0" y="0" font-size="9.30" text-anchor="middle" fill="#5e171b" stroke="#5e171b" stroke-width="0.04" transform="translate(265.15 682.15) scale(1.000 0.92)">0.355</text>
<text x="0" y="0" font-size="9.30" text-anchor="middle" fill="#5e1519" stroke="#5e1519" stroke-width="0.04" transform="translate(307.40 682.15) scale(1.000 0.92)">0.434</text>
<text x="0" y="0" font-size="9.30" text-anchor="middle" fill="#1c1c1c" stroke="#1c1c1c" stroke-width="0.04" transform="translate(223.00 698.65) scale(1.000 0.92)">&#8722;0.093</text>
<text x="0" y="0" font-size="9.30" text-anchor="middle" fill="#1c1c1c" stroke="#1c1c1c" stroke-width="0.04" transform="translate(265.15 698.65) scale(1.000 0.92)">&#8722;0.034</text>
<text x="0" y="0" font-size="9.30" text-anchor="middle" fill="#5a0a0c" stroke="#5a0a0c" stroke-width="0.04" transform="translate(307.40 698.65) scale(1.000 0.92)">0.960</text>
<text x="0" y="0" font-size="9.30" text-anchor="middle" fill="#1c1c1c" stroke="#1c1c1c" stroke-width="0.04" transform="translate(223.00 714.75) scale(1.000 0.92)">0.212</text>
<text x="0" y="0" font-size="9.30" text-anchor="middle" fill="#5b0b0d" stroke="#5b0b0d" stroke-width="0.04" transform="translate(265.15 714.75) scale(1.000 0.92)">0.890</text>
<text x="0" y="0" font-size="9.30" text-anchor="middle" fill="#1c1c1c" stroke="#1c1c1c" stroke-width="0.04" transform="translate(307.40 714.75) scale(1.000 0.92)">&#8722;0.036</text>
<text x="0" y="0" font-size="9.30" text-anchor="middle" fill="#5d1215" stroke="#5d1215" stroke-width="0.04" transform="translate(223.00 730.70) scale(1.000 0.92)">0.568</text>
<text x="0" y="0" font-size="9.30" text-anchor="middle" fill="#1c1c1c" stroke="#1c1c1c" stroke-width="0.04" transform="translate(265.15 730.70) scale(1.000 0.92)">&#8722;0.001</text>
<text x="0" y="0" font-size="9.30" text-anchor="middle" fill="#1c1c1c" stroke="#1c1c1c" stroke-width="0.04" transform="translate(307.40 730.70) scale(1.000 0.92)">0.002</text>
<text x="0" y="0" font-size="9.30" text-anchor="middle" fill="#5b0d0f" stroke="#5b0d0f" stroke-width="0.04" transform="translate(223.00 746.95) scale(1.000 0.92)">0.804</text>
<text x="0" y="0" font-size="9.30" text-anchor="middle" fill="#1c1c1c" stroke="#1c1c1c" stroke-width="0.04" transform="translate(265.15 746.95) scale(1.000 0.92)">0.146</text>
<text x="0" y="0" font-size="9.30" text-anchor="middle" fill="#1c1c1c" stroke="#1c1c1c" stroke-width="0.04" transform="translate(307.40 746.95) scale(1.000 0.92)">0.100</text>
<text x="0" y="0" font-size="9.30" text-anchor="middle" fill="#1c1c1c" stroke="#1c1c1c" stroke-width="0.04" transform="translate(223.00 762.75) scale(1.000 0.92)">&#8722;0.034</text>
<text x="0" y="0" font-size="9.30" text-anchor="middle" fill="#5c0e10" stroke="#5c0e10" stroke-width="0.04" transform="translate(265.15 762.75) scale(1.000 0.92)">0.778</text>
<text x="0" y="0" font-size="9.30" text-anchor="middle" fill="#5e1518" stroke="#5e1518" stroke-width="0.04" transform="translate(307.40 762.75) scale(1.000 0.92)">0.446</text>
<rect x="344.60" y="622.30" width="41.10" height="16.20" fill="#d7dbe6"/>
<rect x="387.00" y="622.30" width="40.70" height="16.20" fill="#fef6f6"/>
<rect x="429.00" y="622.30" width="40.70" height="16.20" fill="#f06869"/>
<rect x="471.00" y="622.30" width="40.60" height="16.20" fill="#d2d7e3"/>
<rect x="344.60" y="638.50" width="41.10" height="16.00" fill="#fce4e4"/>
<rect x="387.00" y="638.50" width="40.70" height="16.00" fill="#fef3f3"/>
<rect x="429.00" y="638.50" width="40.70" height="16.00" fill="#f0696b"/>
<rect x="471.00" y="638.50" width="40.60" height="16.00" fill="#fdeaea"/>
<rect x="344.60" y="654.50" width="41.10" height="16.30" fill="#fef8f8"/>
<rect x="387.00" y="654.50" width="40.70" height="16.30" fill="#919db9"/>
<rect x="429.00" y="654.50" width="40.70" height="16.30" fill="#fde8e8"/>
<rect x="471.00" y="654.50" width="40.60" height="16.30" fill="#63749c"/>
<rect x="344.60" y="670.80" width="41.10" height="16.40" fill="#f16f71"/>
<rect x="387.00" y="670.80" width="40.70" height="16.40" fill="#eceef4"/>
<rect x="429.00" y="670.80" width="40.70" height="16.40" fill="#fef4f4"/>
<rect x="471.00" y="670.80" width="40.60" height="16.40" fill="#facacb"/>
<rect x="344.60" y="687.20" width="41.10" height="16.60" fill="#fffbfb"/>
<rect x="387.00" y="687.20" width="40.70" height="16.60" fill="#f06c6e"/>
<rect x="429.00" y="687.20" width="40.70" height="16.60" fill="#fde7e7"/>
<rect x="471.00" y="687.20" width="40.60" height="16.60" fill="#fbd5d6"/>
<rect x="344.60" y="703.80" width="41.10" height="15.60" fill="#ee585a"/>
<rect x="387.00" y="703.80" width="40.70" height="15.60" fill="#fbd9da"/>
<rect x="429.00" y="703.80" width="40.70" height="15.60" fill="#fffefe"/>
<rect x="471.00" y="703.80" width="40.60" height="15.60" fill="#eaecf2"/>
<rect x="344.60" y="719.40" width="41.10" height="16.30" fill="#f38384"/>
<rect x="387.00" y="719.40" width="40.70" height="16.30" fill="#f7a9aa"/>
<rect x="429.00" y="719.40" width="40.70" height="16.30" fill="#cbd0de"/>
<rect x="471.00" y="719.40" width="40.60" height="16.30" fill="#adb6cb"/>
<rect x="344.60" y="735.70" width="41.10" height="16.20" fill="#f38788"/>
<rect x="387.00" y="735.70" width="40.70" height="16.20" fill="#fef1f1"/>
<rect x="429.00" y="735.70" width="40.70" height="16.20" fill="#fefafa"/>
<rect x="471.00" y="735.70" width="40.60" height="16.20" fill="#f3898a"/>
<rect x="344.60" y="751.90" width="41.10" height="15.40" fill="#fbd6d6"/>
<rect x="387.00" y="751.90" width="40.70" height="15.40" fill="#ef595a"/>
<rect x="429.00" y="751.90" width="40.70" height="15.40" fill="#fef5f5"/>
<rect x="471.00" y="751.90" width="40.60" height="15.40" fill="#fef6f6"/>
<line x1="344.2" y1="587.2" x2="512.5" y2="587.2" stroke="#2b2b2b" stroke-width="1.0"/>
<line x1="344.2" y1="606.1" x2="512.5" y2="606.1" stroke="#2b2b2b" stroke-width="1.0"/>
<line x1="344.2" y1="622.3" x2="512.5" y2="622.3" stroke="#2b2b2b" stroke-width="1.0"/>
<line x1="344.2" y1="638.5" x2="512.5" y2="638.5" stroke="#2b2b2b" stroke-width="1.0"/>
<line x1="344.2" y1="654.5" x2="512.5" y2="654.5" stroke="#2b2b2b" stroke-width="1.0"/>
<line x1="344.2" y1="670.8" x2="512.5" y2="670.8" stroke="#2b2b2b" stroke-width="1.0"/>
<line x1="344.2" y1="687.2" x2="512.5" y2="687.2" stroke="#2b2b2b" stroke-width="1.0"/>
<line x1="344.2" y1="703.8" x2="512.5" y2="703.8" stroke="#2b2b2b" stroke-width="1.0"/>
<line x1="344.2" y1="719.4" x2="512.5" y2="719.4" stroke="#2b2b2b" stroke-width="1.0"/>
<line x1="344.2" y1="735.7" x2="512.5" y2="735.7" stroke="#2b2b2b" stroke-width="1.0"/>
<line x1="344.2" y1="751.9" x2="512.5" y2="751.9" stroke="#2b2b2b" stroke-width="1.0"/>
<line x1="344.2" y1="767.3" x2="512.5" y2="767.3" stroke="#2b2b2b" stroke-width="1.0"/>
<line x1="344.2" y1="587.2" x2="344.2" y2="767.3" stroke="#2b2b2b" stroke-width="1.0"/>
<line x1="386.6" y1="606.1" x2="386.6" y2="767.3" stroke="#2b2b2b" stroke-width="1.0"/>
<line x1="428.6" y1="606.1" x2="428.6" y2="767.3" stroke="#2b2b2b" stroke-width="1.0"/>
<line x1="470.6" y1="606.1" x2="470.6" y2="767.3" stroke="#2b2b2b" stroke-width="1.0"/>
<line x1="512.5" y1="587.2" x2="512.5" y2="767.3" stroke="#2b2b2b" stroke-width="1.0"/>
<text x="0" y="0" font-size="9.30" text-anchor="middle" fill="#222" stroke="#222" stroke-width="0.04" transform="translate(428.35 599.40) scale(1.000 0.92)">Component</text>
<text x="0" y="0" font-size="9.30" text-anchor="middle" fill="#222" stroke="#222" stroke-width="0.04" transform="translate(365.40 617.25) scale(1.000 0.92)">1</text>
<text x="0" y="0" font-size="9.30" text-anchor="middle" fill="#222" stroke="#222" stroke-width="0.04" transform="translate(407.60 617.25) scale(1.000 0.92)">2</text>
<text x="0" y="0" font-size="9.30" text-anchor="middle" fill="#222" stroke="#222" stroke-width="0.04" transform="translate(449.60 617.25) scale(1.000 0.92)">3</text>
<text x="0" y="0" font-size="9.30" text-anchor="middle" fill="#222" stroke="#222" stroke-width="0.04" transform="translate(491.55 617.25) scale(1.000 0.92)">4</text>
<text x="0" y="0" font-size="9.30" text-anchor="middle" fill="#1c1c1c" stroke="#1c1c1c" stroke-width="0.04" transform="translate(366.10 633.55) scale(1.000 0.92)">&#8722;0.165</text>
<text x="0" y="0" font-size="9.30" text-anchor="middle" fill="#1c1c1c" stroke="#1c1c1c" stroke-width="0.04" transform="translate(408.30 633.55) scale(1.000 0.92)">0.051</text>
<text x="0" y="0" font-size="9.30" text-anchor="middle" fill="#5b0c0f" stroke="#5b0c0f" stroke-width="0.04" transform="translate(450.30 633.55) scale(1.000 0.92)">0.831</text>
<text x="0" y="0" font-size="9.30" text-anchor="middle" fill="#1c1c1c" stroke="#1c1c1c" stroke-width="0.04" transform="translate(492.25 633.55) scale(1.000 0.92)">&#8722;0.187</text>
<text x="0" y="0" font-size="9.30" text-anchor="middle" fill="#1c1c1c" stroke="#1c1c1c" stroke-width="0.04" transform="translate(366.10 649.65) scale(1.000 0.92)">0.148</text>
<text x="0" y="0" font-size="9.30" text-anchor="middle" fill="#1c1c1c" stroke="#1c1c1c" stroke-width="0.04" transform="translate(408.30 649.65) scale(1.000 0.92)">0.068</text>
<text x="0" y="0" font-size="9.30" text-anchor="middle" fill="#5b0d0f" stroke="#5b0d0f" stroke-width="0.04" transform="translate(450.30 649.65) scale(1.000 0.92)">0.823</text>
<text x="0" y="0" font-size="9.30" text-anchor="middle" fill="#1c1c1c" stroke="#1c1c1c" stroke-width="0.04" transform="translate(492.25 649.65) scale(1.000 0.92)">0.116</text>
<text x="0" y="0" font-size="9.30" text-anchor="middle" fill="#1c1c1c" stroke="#1c1c1c" stroke-width="0.04" transform="translate(366.10 665.80) scale(1.000 0.92)">0.038</text>
<text x="0" y="0" font-size="9.30" text-anchor="middle" fill="#1c1c1c" stroke="#1c1c1c" stroke-width="0.04" transform="translate(408.30 665.80) scale(1.000 0.92)">&#8722;0.477</text>
<text x="0" y="0" font-size="9.30" text-anchor="middle" fill="#1c1c1c" stroke="#1c1c1c" stroke-width="0.04" transform="translate(450.30 665.80) scale(1.000 0.92)">0.128</text>
<text x="0" y="0" font-size="9.30" text-anchor="middle" fill="#1a2038" stroke="#1a2038" stroke-width="0.04" transform="translate(492.25 665.80) scale(1.000 0.92)">&#8722;0.679</text>
<text x="0" y="0" font-size="9.30" text-anchor="middle" fill="#5b0d10" stroke="#5b0d10" stroke-width="0.04" transform="translate(366.10 682.15) scale(1.000 0.92)">0.790</text>
<text x="0" y="0" font-size="9.30" text-anchor="middle" fill="#1c1c1c" stroke="#1c1c1c" stroke-width="0.04" transform="translate(408.30 682.15) scale(1.000 0.92)">&#8722;0.070</text>
<text x="0" y="0" font-size="9.30" text-anchor="middle" fill="#1c1c1c" stroke="#1c1c1c" stroke-width="0.04" transform="translate(450.30 682.15) scale(1.000 0.92)">0.062</text>
<text x="0" y="0" font-size="9.30" text-anchor="middle" fill="#1c1c1c" stroke="#1c1c1c" stroke-width="0.04" transform="translate(492.25 682.15) scale(1.000 0.92)">0.290</text>
<text x="0" y="0" font-size="9.30" text-anchor="middle" fill="#1c1c1c" stroke="#1c1c1c" stroke-width="0.04" transform="translate(366.10 698.65) scale(1.000 0.92)">0.020</text>
<text x="0" y="0" font-size="9.30" text-anchor="middle" fill="#5b0d0f" stroke="#5b0d0f" stroke-width="0.04" transform="translate(408.30 698.65) scale(1.000 0.92)">0.807</text>
<text x="0" y="0" font-size="9.30" text-anchor="middle" fill="#1c1c1c" stroke="#1c1c1c" stroke-width="0.04" transform="translate(450.30 698.65) scale(1.000 0.92)">0.132</text>
<text x="0" y="0" font-size="9.30" text-anchor="middle" fill="#1c1c1c" stroke="#1c1c1c" stroke-width="0.04" transform="translate(492.25 698.65) scale(1.000 0.92)">0.229</text>
<text x="0" y="0" font-size="9.30" text-anchor="middle" fill="#5b0b0d" stroke="#5b0b0d" stroke-width="0.04" transform="translate(366.10 714.75) scale(1.000 0.92)">0.919</text>
<text x="0" y="0" font-size="9.30" text-anchor="middle" fill="#1c1c1c" stroke="#1c1c1c" stroke-width="0.04" transform="translate(408.30 714.75) scale(1.000 0.92)">0.208</text>
<text x="0" y="0" font-size="9.30" text-anchor="middle" fill="#1c1c1c" stroke="#1c1c1c" stroke-width="0.04" transform="translate(450.30 714.75) scale(1.000 0.92)">0.003</text>
<text x="0" y="0" font-size="9.30" text-anchor="middle" fill="#1c1c1c" stroke="#1c1c1c" stroke-width="0.04" transform="translate(492.25 714.75) scale(1.000 0.92)">&#8722;0.082</text>
<text x="0" y="0" font-size="9.30" text-anchor="middle" fill="#5c1013" stroke="#5c1013" stroke-width="0.04" transform="translate(366.10 730.70) scale(1.000 0.92)">0.681</text>
<text x="0" y="0" font-size="9.30" text-anchor="middle" fill="#5e1418" stroke="#5e1418" stroke-width="0.04" transform="translate(408.30 730.70) scale(1.000 0.92)">0.471</text>
<text x="0" y="0" font-size="9.30" text-anchor="middle" fill="#1c1c1c" stroke="#1c1c1c" stroke-width="0.04" transform="translate(450.30 730.70) scale(1.000 0.92)">&#8722;0.218</text>
<text x="0" y="0" font-size="9.30" text-anchor="middle" fill="#1c1c1c" stroke="#1c1c1c" stroke-width="0.04" transform="translate(492.25 730.70) scale(1.000 0.92)">&#8722;0.351</text>
<text x="0" y="0" font-size="9.30" text-anchor="middle" fill="#5c1013" stroke="#5c1013" stroke-width="0.04" transform="translate(366.10 746.95) scale(1.000 0.92)">0.660</text>
<text x="0" y="0" font-size="9.30" text-anchor="middle" fill="#1c1c1c" stroke="#1c1c1c" stroke-width="0.04" transform="translate(408.30 746.95) scale(1.000 0.92)">0.076</text>
<text x="0" y="0" font-size="9.30" text-anchor="middle" fill="#1c1c1c" stroke="#1c1c1c" stroke-width="0.04" transform="translate(450.30 746.95) scale(1.000 0.92)">0.028</text>
<text x="0" y="0" font-size="9.30" text-anchor="middle" fill="#5c1013" stroke="#5c1013" stroke-width="0.04" transform="translate(492.25 746.95) scale(1.000 0.92)">0.648</text>
<text x="0" y="0" font-size="9.30" text-anchor="middle" fill="#1c1c1c" stroke="#1c1c1c" stroke-width="0.04" transform="translate(366.10 762.75) scale(1.000 0.92)">0.228</text>
<text x="0" y="0" font-size="9.30" text-anchor="middle" fill="#5b0b0d" stroke="#5b0b0d" stroke-width="0.04" transform="translate(408.30 762.75) scale(1.000 0.92)">0.914</text>
<text x="0" y="0" font-size="9.30" text-anchor="middle" fill="#1c1c1c" stroke="#1c1c1c" stroke-width="0.04" transform="translate(450.30 762.75) scale(1.000 0.92)">0.054</text>
<text x="0" y="0" font-size="9.30" text-anchor="middle" fill="#1c1c1c" stroke="#1c1c1c" stroke-width="0.04" transform="translate(492.25 762.75) scale(1.000 0.92)">0.048</text>
<text x="121.30" y="580.50" font-size="10.5" text-anchor="middle" fill="#1a1a1a" font-weight="normal" stroke="#1a1a1a" stroke-width="0.15">untreated</text>
<text x="264.50" y="580.50" font-size="10.5" text-anchor="middle" fill="#1a1a1a" font-weight="normal" stroke="#1a1a1a" stroke-width="0.15">chemotherapy</text>
<text x="428.40" y="580.50" font-size="10.5" text-anchor="middle" fill="#1a1a1a" font-weight="normal" stroke="#1a1a1a" stroke-width="0.15">ibrutinib</text>
<polygon points="79.50,305.00 139.30,291.00 139.30,394.00 79.50,408.00" fill="#cccccc" stroke="none" stroke-width="0"/>
<polygon points="139.30,291.00 224.50,301.00 224.50,404.00 139.30,394.00" fill="#e4e4e4" stroke="none" stroke-width="0"/>
<polygon points="79.50,408.00 139.30,394.00 224.50,404.00 166.00,418.50" fill="#adadad" stroke="none" stroke-width="0"/>
<polygon points="330.80,303.90 391.50,289.70 391.50,394.50 330.80,408.70" fill="#cccccc" stroke="none" stroke-width="0"/>
<polygon points="391.50,289.70 479.30,299.50 479.30,404.30 391.50,394.50" fill="#e4e4e4" stroke="none" stroke-width="0"/>
<polygon points="330.80,408.70 391.50,394.50 479.30,404.30 419.20,419.20" fill="#adadad" stroke="none" stroke-width="0"/>

<circle cx="107.1" cy="327.1" r="3.8" fill="#ffffff" fill-opacity="0.7"/>
<circle cx="112.9" cy="335.2" r="3.8" fill="#ffffff" fill-opacity="0.7"/>
<circle cx="108.1" cy="340.6" r="3.8" fill="#ffffff" fill-opacity="0.7"/>
<circle cx="106.5" cy="345.8" r="3.8" fill="#ffffff" fill-opacity="0.7"/>
<circle cx="111.2" cy="346.3" r="3.8" fill="#ffffff" fill-opacity="0.7"/>
<circle cx="110.8" cy="351.2" r="3.8" fill="#ffffff" fill-opacity="0.7"/>
<circle cx="109.2" cy="349.0" r="3.8" fill="#ffffff" fill-opacity="0.7"/>
<circle cx="118.1" cy="344.2" r="3.8" fill="#ffffff" fill-opacity="0.7"/>
<circle cx="115.2" cy="347.7" r="3.8" fill="#ffffff" fill-opacity="0.7"/>
<circle cx="119.0" cy="349.6" r="3.8" fill="#ffffff" fill-opacity="0.7"/>
<circle cx="119.6" cy="354.4" r="3.8" fill="#ffffff" fill-opacity="0.7"/>
<circle cx="119.6" cy="361.2" r="3.8" fill="#ffffff" fill-opacity="0.7"/>
<circle cx="127.7" cy="344.2" r="3.8" fill="#ffffff" fill-opacity="0.7"/>
<circle cx="136.0" cy="346.7" r="3.8" fill="#ffffff" fill-opacity="0.7"/>
<circle cx="140.6" cy="347.1" r="3.8" fill="#ffffff" fill-opacity="0.7"/>
<circle cx="145.4" cy="351.5" r="3.8" fill="#ffffff" fill-opacity="0.7"/>
<circle cx="149.8" cy="347.7" r="3.8" fill="#ffffff" fill-opacity="0.7"/>
<circle cx="135.0" cy="352.5" r="3.8" fill="#ffffff" fill-opacity="0.7"/>
<circle cx="135.0" cy="360.2" r="3.8" fill="#ffffff" fill-opacity="0.7"/>
<circle cx="142.1" cy="361.5" r="3.8" fill="#ffffff" fill-opacity="0.7"/>
<circle cx="150.8" cy="369.4" r="3.8" fill="#ffffff" fill-opacity="0.7"/>
<circle cx="146.3" cy="375.0" r="3.8" fill="#ffffff" fill-opacity="0.7"/>
<circle cx="156.5" cy="329.0" r="3.8" fill="#ffffff" fill-opacity="0.7"/>
<circle cx="161.7" cy="334.2" r="3.8" fill="#ffffff" fill-opacity="0.7"/>
<circle cx="181.5" cy="340.6" r="3.8" fill="#ffffff" fill-opacity="0.7"/>
<circle cx="160.4" cy="345.8" r="3.8" fill="#ffffff" fill-opacity="0.7"/>
<circle cx="157.5" cy="351.5" r="3.8" fill="#ffffff" fill-opacity="0.7"/>
<circle cx="165.2" cy="346.7" r="3.8" fill="#ffffff" fill-opacity="0.7"/>
<circle cx="171.0" cy="344.5" r="3.8" fill="#ffffff" fill-opacity="0.7"/>
<circle cx="169.0" cy="349.4" r="3.8" fill="#ffffff" fill-opacity="0.7"/>
<circle cx="173.8" cy="348.5" r="3.8" fill="#ffffff" fill-opacity="0.7"/>
<circle cx="182.5" cy="345.8" r="3.8" fill="#ffffff" fill-opacity="0.7"/>
<circle cx="187.3" cy="348.7" r="3.8" fill="#ffffff" fill-opacity="0.7"/>
<circle cx="183.5" cy="350.6" r="3.8" fill="#ffffff" fill-opacity="0.7"/>
<circle cx="175.8" cy="352.0" r="3.8" fill="#ffffff" fill-opacity="0.7"/>
<circle cx="163.3" cy="355.4" r="3.8" fill="#ffffff" fill-opacity="0.7"/>
<circle cx="169.0" cy="354.4" r="3.8" fill="#ffffff" fill-opacity="0.7"/>
<circle cx="184.0" cy="356.0" r="3.8" fill="#ffffff" fill-opacity="0.7"/>
<circle cx="179.4" cy="358.3" r="3.8" fill="#ffffff" fill-opacity="0.7"/>
<circle cx="174.8" cy="357.7" r="3.8" fill="#ffffff" fill-opacity="0.7"/>
<circle cx="166.4" cy="358.8" r="3.8" fill="#ffffff" fill-opacity="0.7"/>
<circle cx="162.6" cy="359.0" r="3.8" fill="#ffffff" fill-opacity="0.7"/>
<circle cx="171.0" cy="360.6" r="3.8" fill="#ffffff" fill-opacity="0.7"/>
<circle cx="162.3" cy="364.5" r="3.8" fill="#ffffff" fill-opacity="0.7"/>
<circle cx="166.8" cy="363.8" r="3.8" fill="#ffffff" fill-opacity="0.7"/>
<circle cx="175.0" cy="364.2" r="3.8" fill="#ffffff" fill-opacity="0.7"/>
<circle cx="164.6" cy="367.2" r="3.8" fill="#ffffff" fill-opacity="0.7"/>
<circle cx="171.6" cy="368.4" r="3.8" fill="#ffffff" fill-opacity="0.7"/>
<circle cx="173.8" cy="370.8" r="3.8" fill="#ffffff" fill-opacity="0.7"/>
<circle cx="164.2" cy="372.7" r="3.8" fill="#ffffff" fill-opacity="0.7"/>
<circle cx="168.5" cy="371.2" r="3.8" fill="#ffffff" fill-opacity="0.7"/>
<circle cx="159.4" cy="376.5" r="3.8" fill="#ffffff" fill-opacity="0.7"/>
<circle cx="164.6" cy="378.6" r="3.8" fill="#ffffff" fill-opacity="0.7"/>
<circle cx="168.1" cy="381.3" r="3.8" fill="#ffffff" fill-opacity="0.7"/>
<circle cx="176.7" cy="378.6" r="3.8" fill="#ffffff" fill-opacity="0.7"/>
<circle cx="175.8" cy="382.0" r="3.8" fill="#ffffff" fill-opacity="0.7"/>
<circle cx="172.0" cy="375.2" r="3.8" fill="#ffffff" fill-opacity="0.7"/>
<circle cx="171.9" cy="377.8" r="3.8" fill="#ffffff" fill-opacity="0.7"/>
<circle cx="170.4" cy="379.6" r="3.8" fill="#ffffff" fill-opacity="0.7"/>
<circle cx="107.1" cy="327.1" r="2.45" fill="#26307a" stroke="#0e1236" stroke-width="1.15"/>
<circle cx="112.9" cy="335.2" r="2.45" fill="#26307a" stroke="#0e1236" stroke-width="1.15"/>
<circle cx="108.1" cy="340.6" r="2.45" fill="#26307a" stroke="#0e1236" stroke-width="1.15"/>
<circle cx="106.5" cy="345.8" r="2.45" fill="#26307a" stroke="#0e1236" stroke-width="1.15"/>
<circle cx="111.2" cy="346.3" r="2.45" fill="#26307a" stroke="#0e1236" stroke-width="1.15"/>
<circle cx="110.8" cy="351.2" r="2.45" fill="#26307a" stroke="#0e1236" stroke-width="1.15"/>
<circle cx="109.2" cy="349.0" r="2.45" fill="#26307a" stroke="#0e1236" stroke-width="1.15"/>
<circle cx="118.1" cy="344.2" r="2.45" fill="#26307a" stroke="#0e1236" stroke-width="1.15"/>
<circle cx="115.2" cy="347.7" r="2.45" fill="#c9303f" stroke="#4a1016" stroke-width="1.15"/>
<circle cx="119.0" cy="349.6" r="2.45" fill="#26307a" stroke="#0e1236" stroke-width="1.15"/>
<circle cx="119.6" cy="354.4" r="2.45" fill="#26307a" stroke="#0e1236" stroke-width="1.15"/>
<circle cx="119.6" cy="361.2" r="2.45" fill="#26307a" stroke="#0e1236" stroke-width="1.15"/>
<circle cx="127.7" cy="344.2" r="2.45" fill="#26307a" stroke="#0e1236" stroke-width="1.15"/>
<circle cx="136.0" cy="346.7" r="2.45" fill="#3da23f" stroke="#15401a" stroke-width="1.15"/>
<circle cx="140.6" cy="347.1" r="2.45" fill="#3da23f" stroke="#15401a" stroke-width="1.15"/>
<circle cx="145.4" cy="351.5" r="2.45" fill="#3da23f" stroke="#15401a" stroke-width="1.15"/>
<circle cx="149.8" cy="347.7" r="2.45" fill="#26307a" stroke="#0e1236" stroke-width="1.15"/>
<circle cx="135.0" cy="352.5" r="2.45" fill="#26307a" stroke="#0e1236" stroke-width="1.15"/>
<circle cx="135.0" cy="360.2" r="2.45" fill="#26307a" stroke="#0e1236" stroke-width="1.15"/>
<circle cx="142.1" cy="361.5" r="2.45" fill="#3da23f" stroke="#15401a" stroke-width="1.15"/>
<circle cx="150.8" cy="369.4" r="2.45" fill="#3da23f" stroke="#15401a" stroke-width="1.15"/>
<circle cx="146.3" cy="375.0" r="2.45" fill="#26307a" stroke="#0e1236" stroke-width="1.15"/>
<circle cx="156.5" cy="329.0" r="2.45" fill="#c9303f" stroke="#4a1016" stroke-width="1.15"/>
<circle cx="161.7" cy="334.2" r="2.45" fill="#3da23f" stroke="#15401a" stroke-width="1.15"/>
<circle cx="181.5" cy="340.6" r="2.45" fill="#3da23f" stroke="#15401a" stroke-width="1.15"/>
<circle cx="160.4" cy="345.8" r="2.45" fill="#3da23f" stroke="#15401a" stroke-width="1.15"/>
<circle cx="157.5" cy="351.5" r="2.45" fill="#3da23f" stroke="#15401a" stroke-width="1.15"/>
<circle cx="165.2" cy="346.7" r="2.45" fill="#3da23f" stroke="#15401a" stroke-width="1.15"/>
<circle cx="171.0" cy="344.5" r="2.45" fill="#26307a" stroke="#0e1236" stroke-width="1.15"/>
<circle cx="169.0" cy="349.4" r="2.45" fill="#26307a" stroke="#0e1236" stroke-width="1.15"/>
<circle cx="173.8" cy="348.5" r="2.45" fill="#3da23f" stroke="#15401a" stroke-width="1.15"/>
<circle cx="182.5" cy="345.8" r="2.45" fill="#c9303f" stroke="#4a1016" stroke-width="1.15"/>
<circle cx="187.3" cy="348.7" r="2.45" fill="#26307a" stroke="#0e1236" stroke-width="1.15"/>
<circle cx="183.5" cy="350.6" r="2.45" fill="#c9303f" stroke="#4a1016" stroke-width="1.15"/>
<circle cx="175.8" cy="352.0" r="2.45" fill="#c9303f" stroke="#4a1016" stroke-width="1.15"/>
<circle cx="163.3" cy="355.4" r="2.45" fill="#3da23f" stroke="#15401a" stroke-width="1.15"/>
<circle cx="169.0" cy="354.4" r="2.45" fill="#3da23f" stroke="#15401a" stroke-width="1.15"/>
<circle cx="184.0" cy="356.0" r="2.45" fill="#26307a" stroke="#0e1236" stroke-width="1.15"/>
<circle cx="179.4" cy="358.3" r="2.45" fill="#3da23f" stroke="#15401a" stroke-width="1.15"/>
<circle cx="174.8" cy="357.7" r="2.45" fill="#3da23f" stroke="#15401a" stroke-width="1.15"/>
<circle cx="166.4" cy="358.8" r="2.45" fill="#c9303f" stroke="#4a1016" stroke-width="1.15"/>
<circle cx="162.6" cy="359.0" r="2.45" fill="#3da23f" stroke="#15401a" stroke-width="1.15"/>
<circle cx="171.0" cy="360.6" r="2.45" fill="#3da23f" stroke="#15401a" stroke-width="1.15"/>
<circle cx="162.3" cy="364.5" r="2.45" fill="#26307a" stroke="#0e1236" stroke-width="1.15"/>
<circle cx="166.8" cy="363.8" r="2.45" fill="#3da23f" stroke="#15401a" stroke-width="1.15"/>
<circle cx="175.0" cy="364.2" r="2.45" fill="#26307a" stroke="#0e1236" stroke-width="1.15"/>
<circle cx="164.6" cy="367.2" r="2.45" fill="#3da23f" stroke="#15401a" stroke-width="1.15"/>
<circle cx="171.6" cy="368.4" r="2.6" fill="#ffffff" stroke="#404040" stroke-width="0.85"/>
<circle cx="173.8" cy="370.8" r="2.6" fill="#ffffff" stroke="#404040" stroke-width="0.85"/>
<circle cx="164.2" cy="372.7" r="2.6" fill="#ffffff" stroke="#404040" stroke-width="0.85"/>
<circle cx="168.5" cy="371.2" r="2.6" fill="#ffffff" stroke="#404040" stroke-width="0.85"/>
<circle cx="159.4" cy="376.5" r="2.6" fill="#ffffff" stroke="#404040" stroke-width="0.85"/>
<circle cx="164.6" cy="378.6" r="2.6" fill="#ffffff" stroke="#404040" stroke-width="0.85"/>
<circle cx="168.1" cy="381.3" r="2.6" fill="#ffffff" stroke="#404040" stroke-width="0.85"/>
<circle cx="176.7" cy="378.6" r="2.6" fill="#ffffff" stroke="#404040" stroke-width="0.85"/>
<circle cx="175.8" cy="382.0" r="2.6" fill="#ffffff" stroke="#404040" stroke-width="0.85"/>
<circle cx="172.0" cy="375.2" r="2.6" fill="#ffffff" stroke="#404040" stroke-width="0.85"/>
<circle cx="171.9" cy="377.8" r="2.45" fill="#26307a" stroke="#0e1236" stroke-width="1.15"/>
<circle cx="170.4" cy="379.6" r="2.45" fill="#26307a" stroke="#0e1236" stroke-width="1.15"/>
<line x1="391.50" y1="394.50" x2="391.50" y2="289.70" stroke="#262626" stroke-width="1.5" stroke-linecap="round"/>
<circle cx="419.8" cy="302.5" r="3.8" fill="#ffffff" fill-opacity="0.7"/>
<circle cx="418.2" cy="309.8" r="3.8" fill="#ffffff" fill-opacity="0.7"/>
<circle cx="379.5" cy="314.6" r="3.8" fill="#ffffff" fill-opacity="0.7"/>
<circle cx="381.5" cy="319.5" r="3.8" fill="#ffffff" fill-opacity="0.7"/>
<circle cx="365.7" cy="327.9" r="3.8" fill="#ffffff" fill-opacity="0.7"/>
<circle cx="378.7" cy="327.6" r="3.8" fill="#ffffff" fill-opacity="0.7"/>
<circle cx="391.0" cy="325.0" r="3.8" fill="#ffffff" fill-opacity="0.7"/>
<circle cx="393.1" cy="325.2" r="3.8" fill="#ffffff" fill-opacity="0.7"/>
<circle cx="400.9" cy="315.2" r="3.8" fill="#ffffff" fill-opacity="0.7"/>
<circle cx="405.8" cy="314.0" r="3.8" fill="#ffffff" fill-opacity="0.7"/>
<circle cx="408.7" cy="315.8" r="3.8" fill="#ffffff" fill-opacity="0.7"/>
<circle cx="407.8" cy="319.5" r="3.8" fill="#ffffff" fill-opacity="0.7"/>
<circle cx="412.1" cy="324.4" r="3.8" fill="#ffffff" fill-opacity="0.7"/>
<circle cx="407.5" cy="326.7" r="3.8" fill="#ffffff" fill-opacity="0.7"/>
<circle cx="404.6" cy="329.0" r="3.8" fill="#ffffff" fill-opacity="0.7"/>
<circle cx="397.1" cy="334.2" r="3.8" fill="#ffffff" fill-opacity="0.7"/>
<circle cx="391.3" cy="336.0" r="3.8" fill="#ffffff" fill-opacity="0.7"/>
<circle cx="393.7" cy="338.3" r="3.8" fill="#ffffff" fill-opacity="0.7"/>
<circle cx="394.8" cy="341.0" r="3.8" fill="#ffffff" fill-opacity="0.7"/>
<circle cx="392.6" cy="337.0" r="3.8" fill="#ffffff" fill-opacity="0.7"/>
<circle cx="404.0" cy="334.2" r="3.8" fill="#ffffff" fill-opacity="0.7"/>
<circle cx="406.9" cy="337.1" r="3.8" fill="#ffffff" fill-opacity="0.7"/>
<circle cx="412.1" cy="337.1" r="3.8" fill="#ffffff" fill-opacity="0.7"/>
<circle cx="406.7" cy="342.9" r="3.8" fill="#ffffff" fill-opacity="0.7"/>
<circle cx="414.6" cy="344.0" r="3.8" fill="#ffffff" fill-opacity="0.7"/>
<circle cx="417.9" cy="343.6" r="3.8" fill="#ffffff" fill-opacity="0.7"/>
<circle cx="424.5" cy="344.0" r="3.8" fill="#ffffff" fill-opacity="0.7"/>
<circle cx="451.5" cy="332.5" r="3.8" fill="#ffffff" fill-opacity="0.7"/>
<circle cx="402.3" cy="346.3" r="3.8" fill="#ffffff" fill-opacity="0.7"/>
<circle cx="406.3" cy="349.2" r="3.8" fill="#ffffff" fill-opacity="0.7"/>
<circle cx="411.0" cy="352.1" r="3.8" fill="#ffffff" fill-opacity="0.7"/>
<circle cx="418.5" cy="353.8" r="3.8" fill="#ffffff" fill-opacity="0.7"/>
<circle cx="415.0" cy="355.6" r="3.8" fill="#ffffff" fill-opacity="0.7"/>
<circle cx="400.6" cy="354.4" r="3.8" fill="#ffffff" fill-opacity="0.7"/>
<circle cx="404.0" cy="356.2" r="3.8" fill="#ffffff" fill-opacity="0.7"/>
<circle cx="406.9" cy="357.6" r="3.8" fill="#ffffff" fill-opacity="0.7"/>
<circle cx="404.8" cy="360.8" r="3.8" fill="#ffffff" fill-opacity="0.7"/>
<circle cx="408.6" cy="356.4" r="3.8" fill="#ffffff" fill-opacity="0.7"/>
<circle cx="406.8" cy="361.2" r="3.8" fill="#ffffff" fill-opacity="0.7"/>
<circle cx="399.8" cy="357.9" r="3.8" fill="#ffffff" fill-opacity="0.7"/>
<circle cx="398.8" cy="360.8" r="3.8" fill="#ffffff" fill-opacity="0.7"/>
<circle cx="400.6" cy="364.8" r="3.8" fill="#ffffff" fill-opacity="0.7"/>
<circle cx="402.3" cy="367.7" r="3.8" fill="#ffffff" fill-opacity="0.7"/>
<circle cx="404.6" cy="368.3" r="3.8" fill="#ffffff" fill-opacity="0.7"/>
<circle cx="401.2" cy="370.6" r="3.8" fill="#ffffff" fill-opacity="0.7"/>
<circle cx="406.9" cy="371.2" r="3.8" fill="#ffffff" fill-opacity="0.7"/>
<circle cx="418.5" cy="367.1" r="3.8" fill="#ffffff" fill-opacity="0.7"/>
<circle cx="420.8" cy="370.6" r="3.8" fill="#ffffff" fill-opacity="0.7"/>
<circle cx="423.1" cy="373.5" r="3.8" fill="#ffffff" fill-opacity="0.7"/>
<circle cx="427.7" cy="378.1" r="3.8" fill="#ffffff" fill-opacity="0.7"/>
<circle cx="418.5" cy="379.2" r="3.8" fill="#ffffff" fill-opacity="0.7"/>
<circle cx="401.7" cy="375.2" r="3.8" fill="#ffffff" fill-opacity="0.7"/>
<circle cx="404.0" cy="376.9" r="3.8" fill="#ffffff" fill-opacity="0.7"/>
<circle cx="397.7" cy="379.2" r="3.8" fill="#ffffff" fill-opacity="0.7"/>
<circle cx="401.2" cy="382.1" r="3.8" fill="#ffffff" fill-opacity="0.7"/>
<circle cx="406.9" cy="382.7" r="3.8" fill="#ffffff" fill-opacity="0.7"/>
<circle cx="404.0" cy="379.8" r="3.8" fill="#ffffff" fill-opacity="0.7"/>
<circle cx="391.5" cy="374.7" r="3.8" fill="#ffffff" fill-opacity="0.7"/>
<circle cx="391.0" cy="379.8" r="3.8" fill="#ffffff" fill-opacity="0.7"/>
<circle cx="392.5" cy="386.0" r="3.8" fill="#ffffff" fill-opacity="0.7"/>
<circle cx="413.8" cy="387.9" r="3.8" fill="#ffffff" fill-opacity="0.7"/>
<circle cx="418.5" cy="385.0" r="3.8" fill="#ffffff" fill-opacity="0.7"/>
<circle cx="404.0" cy="395.4" r="3.8" fill="#ffffff" fill-opacity="0.7"/>
<circle cx="358.9" cy="397.2" r="3.8" fill="#ffffff" fill-opacity="0.7"/>
<circle cx="436.8" cy="362.3" r="3.8" fill="#ffffff" fill-opacity="0.7"/>
<circle cx="437.1" cy="366.0" r="3.8" fill="#ffffff" fill-opacity="0.7"/>
<circle cx="419.8" cy="302.5" r="2.45" fill="#26307a" stroke="#0e1236" stroke-width="1.15"/>
<circle cx="418.2" cy="309.8" r="2.45" fill="#26307a" stroke="#0e1236" stroke-width="1.15"/>
<circle cx="379.5" cy="314.6" r="2.45" fill="#26307a" stroke="#0e1236" stroke-width="1.15"/>
<circle cx="381.5" cy="319.5" r="2.45" fill="#26307a" stroke="#0e1236" stroke-width="1.15"/>
<circle cx="365.7" cy="327.9" r="2.45" fill="#26307a" stroke="#0e1236" stroke-width="1.15"/>
<circle cx="378.7" cy="327.6" r="2.45" fill="#26307a" stroke="#0e1236" stroke-width="1.15"/>
<circle cx="391.0" cy="325.0" r="2.45" fill="#26307a" stroke="#0e1236" stroke-width="1.15"/>
<circle cx="393.1" cy="325.2" r="2.45" fill="#26307a" stroke="#0e1236" stroke-width="1.15"/>
<circle cx="400.9" cy="315.2" r="2.45" fill="#26307a" stroke="#0e1236" stroke-width="1.15"/>
<circle cx="405.8" cy="314.0" r="2.45" fill="#26307a" stroke="#0e1236" stroke-width="1.15"/>
<circle cx="408.7" cy="315.8" r="2.45" fill="#26307a" stroke="#0e1236" stroke-width="1.15"/>
<circle cx="407.8" cy="319.5" r="2.6" fill="#ffffff" stroke="#404040" stroke-width="0.85"/>
<circle cx="412.1" cy="324.4" r="2.45" fill="#26307a" stroke="#0e1236" stroke-width="1.15"/>
<circle cx="407.5" cy="326.7" r="2.45" fill="#26307a" stroke="#0e1236" stroke-width="1.15"/>
<circle cx="404.6" cy="329.0" r="2.45" fill="#26307a" stroke="#0e1236" stroke-width="1.15"/>
<circle cx="397.1" cy="334.2" r="2.45" fill="#26307a" stroke="#0e1236" stroke-width="1.15"/>
<circle cx="391.3" cy="336.0" r="2.45" fill="#26307a" stroke="#0e1236" stroke-width="1.15"/>
<circle cx="393.7" cy="338.3" r="2.45" fill="#26307a" stroke="#0e1236" stroke-width="1.15"/>
<circle cx="394.8" cy="341.0" r="2.45" fill="#26307a" stroke="#0e1236" stroke-width="1.15"/>
<circle cx="392.6" cy="337.0" r="2.45" fill="#26307a" stroke="#0e1236" stroke-width="1.15"/>
<circle cx="404.0" cy="334.2" r="2.45" fill="#26307a" stroke="#0e1236" stroke-width="1.15"/>
<circle cx="406.9" cy="337.1" r="2.45" fill="#3da23f" stroke="#15401a" stroke-width="1.15"/>
<circle cx="412.1" cy="337.1" r="2.45" fill="#26307a" stroke="#0e1236" stroke-width="1.15"/>
<circle cx="406.7" cy="342.9" r="2.45" fill="#26307a" stroke="#0e1236" stroke-width="1.15"/>
<circle cx="414.6" cy="344.0" r="2.45" fill="#26307a" stroke="#0e1236" stroke-width="1.15"/>
<circle cx="417.9" cy="343.6" r="2.45" fill="#3da23f" stroke="#15401a" stroke-width="1.15"/>
<circle cx="424.5" cy="344.0" r="2.45" fill="#26307a" stroke="#0e1236" stroke-width="1.15"/>
<circle cx="451.5" cy="332.5" r="2.45" fill="#26307a" stroke="#0e1236" stroke-width="1.15"/>
<circle cx="402.3" cy="346.3" r="2.45" fill="#3da23f" stroke="#15401a" stroke-width="1.15"/>
<circle cx="406.3" cy="349.2" r="2.45" fill="#3da23f" stroke="#15401a" stroke-width="1.15"/>
<circle cx="411.0" cy="352.1" r="2.45" fill="#3da23f" stroke="#15401a" stroke-width="1.15"/>
<circle cx="418.5" cy="353.8" r="2.45" fill="#3da23f" stroke="#15401a" stroke-width="1.15"/>
<circle cx="415.0" cy="355.6" r="2.45" fill="#3da23f" stroke="#15401a" stroke-width="1.15"/>
<circle cx="400.6" cy="354.4" r="2.45" fill="#3da23f" stroke="#15401a" stroke-width="1.15"/>
<circle cx="404.0" cy="356.2" r="2.45" fill="#3da23f" stroke="#15401a" stroke-width="1.15"/>
<circle cx="406.9" cy="357.6" r="2.6" fill="#ffffff" stroke="#404040" stroke-width="0.85"/>
<circle cx="404.8" cy="360.8" r="2.6" fill="#ffffff" stroke="#404040" stroke-width="0.85"/>
<circle cx="408.6" cy="356.4" r="2.6" fill="#ffffff" stroke="#404040" stroke-width="0.85"/>
<circle cx="406.8" cy="361.2" r="2.6" fill="#ffffff" stroke="#404040" stroke-width="0.85"/>
<circle cx="399.8" cy="357.9" r="2.45" fill="#3da23f" stroke="#15401a" stroke-width="1.15"/>
<circle cx="398.8" cy="360.8" r="2.45" fill="#3da23f" stroke="#15401a" stroke-width="1.15"/>
<circle cx="400.6" cy="364.8" r="2.45" fill="#c9303f" stroke="#4a1016" stroke-width="1.15"/>
<circle cx="402.3" cy="367.7" r="2.45" fill="#3da23f" stroke="#15401a" stroke-width="1.15"/>
<circle cx="404.6" cy="368.3" r="2.45" fill="#3da23f" stroke="#15401a" stroke-width="1.15"/>
<circle cx="401.2" cy="370.6" r="2.45" fill="#3da23f" stroke="#15401a" stroke-width="1.15"/>
<circle cx="406.9" cy="371.2" r="2.45" fill="#c9303f" stroke="#4a1016" stroke-width="1.15"/>
<circle cx="418.5" cy="367.1" r="2.45" fill="#c9303f" stroke="#4a1016" stroke-width="1.15"/>
<circle cx="420.8" cy="370.6" r="2.45" fill="#c9303f" stroke="#4a1016" stroke-width="1.15"/>
<circle cx="423.1" cy="373.5" r="2.45" fill="#26307a" stroke="#0e1236" stroke-width="1.15"/>
<circle cx="427.7" cy="378.1" r="2.45" fill="#c9303f" stroke="#4a1016" stroke-width="1.15"/>
<circle cx="418.5" cy="379.2" r="2.45" fill="#c9303f" stroke="#4a1016" stroke-width="1.15"/>
<circle cx="401.7" cy="375.2" r="2.45" fill="#c9303f" stroke="#4a1016" stroke-width="1.15"/>
<circle cx="404.0" cy="376.9" r="2.45" fill="#c9303f" stroke="#4a1016" stroke-width="1.15"/>
<circle cx="397.7" cy="379.2" r="2.45" fill="#26307a" stroke="#0e1236" stroke-width="1.15"/>
<circle cx="401.2" cy="382.1" r="2.45" fill="#c9303f" stroke="#4a1016" stroke-width="1.15"/>
<circle cx="406.9" cy="382.7" r="2.45" fill="#c9303f" stroke="#4a1016" stroke-width="1.15"/>
<circle cx="404.0" cy="379.8" r="2.45" fill="#c9303f" stroke="#4a1016" stroke-width="1.15"/>
<circle cx="391.5" cy="374.7" r="2.45" fill="#26307a" stroke="#0e1236" stroke-width="1.15"/>
<circle cx="391.0" cy="379.8" r="2.45" fill="#3da23f" stroke="#15401a" stroke-width="1.15"/>
<circle cx="392.5" cy="386.0" r="2.45" fill="#c9303f" stroke="#4a1016" stroke-width="1.15"/>
<circle cx="413.8" cy="387.9" r="2.45" fill="#26307a" stroke="#0e1236" stroke-width="1.15"/>
<circle cx="418.5" cy="385.0" r="2.45" fill="#26307a" stroke="#0e1236" stroke-width="1.15"/>
<circle cx="404.0" cy="395.4" r="2.45" fill="#3da23f" stroke="#15401a" stroke-width="1.15"/>
<circle cx="358.9" cy="397.2" r="2.45" fill="#3da23f" stroke="#15401a" stroke-width="1.15"/>
<circle cx="436.8" cy="362.3" r="2.45" fill="#3da23f" stroke="#15401a" stroke-width="1.15"/>
<circle cx="437.1" cy="366.0" r="2.45" fill="#3da23f" stroke="#15401a" stroke-width="1.15"/>
<line x1="76.00" y1="311.60" x2="79.50" y2="311.60" stroke="#222" stroke-width="0.9"/>
<text x="0" y="0" font-size="8.9" text-anchor="end" fill="#222" stroke="#222" stroke-width="0.1" transform="translate(72.30 314.40) rotate(0) scale(1.07 1)" >1000</text>
<line x1="76.00" y1="334.10" x2="79.50" y2="334.10" stroke="#222" stroke-width="0.9"/>
<text x="0" y="0" font-size="8.9" text-anchor="end" fill="#222" stroke="#222" stroke-width="0.1" transform="translate(72.30 336.90) rotate(0) scale(1.07 1)" >100</text>
<line x1="76.00" y1="355.80" x2="79.50" y2="355.80" stroke="#222" stroke-width="0.9"/>
<text x="0" y="0" font-size="8.9" text-anchor="end" fill="#222" stroke="#222" stroke-width="0.1" transform="translate(72.30 358.60) rotate(0) scale(1.07 1)" >10</text>
<line x1="76.00" y1="373.40" x2="79.50" y2="373.40" stroke="#222" stroke-width="0.9"/>
<text x="0" y="0" font-size="8.9" text-anchor="end" fill="#222" stroke="#222" stroke-width="0.1" transform="translate(72.30 376.20) rotate(0) scale(1.07 1)" >1</text>
<line x1="76.00" y1="387.30" x2="79.50" y2="387.30" stroke="#222" stroke-width="0.9"/>
<text x="0" y="0" font-size="8.9" text-anchor="end" fill="#222" stroke="#222" stroke-width="0.1" transform="translate(72.30 390.10) rotate(0) scale(1.07 1)" >&#8722;1</text>
<line x1="76.00" y1="403.90" x2="79.50" y2="403.90" stroke="#222" stroke-width="0.9"/>
<text x="0" y="0" font-size="8.9" text-anchor="end" fill="#222" stroke="#222" stroke-width="0.1" transform="translate(72.30 406.70) rotate(0) scale(1.07 1)" >&#8722;10</text>
<text x="0" y="0" font-size="8.9" text-anchor="middle" fill="#1a1a1a" stroke="#1a1a1a" stroke-width="0.45" textLength="55.4" lengthAdjust="spacingAndGlyphs" transform="translate(17.70 354.5) rotate(-90)">HD component 1</text>
<text x="0" y="0" font-size="8.9" text-anchor="middle" fill="#1a1a1a" stroke="#1a1a1a" stroke-width="0.45" textLength="61.5" lengthAdjust="spacingAndGlyphs" transform="translate(30.70 354.5) rotate(-90)">(HERV-H, HEMO,</text>
<text x="0" y="0" font-size="8.9" text-anchor="middle" fill="#1a1a1a" stroke="#1a1a1a" stroke-width="0.45" textLength="77.0" lengthAdjust="spacingAndGlyphs" transform="translate(43.70 354.5) rotate(-90)">CD133, KLF4, NANOG)</text>
<line x1="83.40" y1="408.97" x2="83.40" y2="412.27" stroke="#222" stroke-width="0.9"/>
<text x="0" y="0" font-size="9.6" text-anchor="start" fill="#222" stroke="#222" stroke-width="0.1" transform="translate(80.20 417.57) rotate(87.5) scale(1.0 1)" >&#8722;1000</text>
<line x1="96.20" y1="410.53" x2="96.20" y2="413.83" stroke="#222" stroke-width="0.9"/>
<text x="0" y="0" font-size="9.6" text-anchor="start" fill="#222" stroke="#222" stroke-width="0.1" transform="translate(93.00 419.13) rotate(87.5) scale(1.0 1)" >&#8722;100</text>
<line x1="109.00" y1="412.08" x2="109.00" y2="415.38" stroke="#222" stroke-width="0.9"/>
<text x="0" y="0" font-size="9.6" text-anchor="start" fill="#222" stroke="#222" stroke-width="0.1" transform="translate(105.80 420.68) rotate(87.5) scale(1.0 1)" >&#8722;10</text>
<line x1="121.80" y1="413.63" x2="121.80" y2="416.93" stroke="#222" stroke-width="0.9"/>
<text x="0" y="0" font-size="9.6" text-anchor="start" fill="#222" stroke="#222" stroke-width="0.1" transform="translate(118.60 422.23) rotate(87.5) scale(1.0 1)" >0</text>
<line x1="135.20" y1="415.26" x2="135.20" y2="418.56" stroke="#222" stroke-width="0.9"/>
<text x="0" y="0" font-size="9.6" text-anchor="start" fill="#222" stroke="#222" stroke-width="0.1" transform="translate(132.00 423.86) rotate(87.5) scale(1.0 1)" >10</text>
<line x1="148.10" y1="416.83" x2="148.10" y2="420.13" stroke="#222" stroke-width="0.9"/>
<text x="0" y="0" font-size="9.6" text-anchor="start" fill="#222" stroke="#222" stroke-width="0.1" transform="translate(144.90 425.43) rotate(87.5) scale(1.0 1)" >100</text>
<line x1="160.90" y1="418.38" x2="160.90" y2="421.68" stroke="#222" stroke-width="0.9"/>
<text x="0" y="0" font-size="9.6" text-anchor="start" fill="#222" stroke="#222" stroke-width="0.1" transform="translate(157.70 426.98) rotate(87.5) scale(1.0 1)" >1000</text>
<line x1="168.70" y1="418.33" x2="168.70" y2="421.63" stroke="#222" stroke-width="0.9"/>
<text x="0" y="0" font-size="8.6" text-anchor="start" fill="#222" stroke="#222" stroke-width="0.1" transform="translate(167.70 429.44) rotate(61) scale(1.13 1)" >10000</text>
<line x1="178.80" y1="415.83" x2="178.80" y2="419.13" stroke="#222" stroke-width="0.9"/>
<text x="0" y="0" font-size="8.6" text-anchor="start" fill="#222" stroke="#222" stroke-width="0.1" transform="translate(177.80 426.56) rotate(61) scale(1.13 1)" >1000</text>
<line x1="189.60" y1="413.15" x2="189.60" y2="416.45" stroke="#222" stroke-width="0.9"/>
<text x="0" y="0" font-size="8.6" text-anchor="start" fill="#222" stroke="#222" stroke-width="0.1" transform="translate(188.60 423.47) rotate(61) scale(1.13 1)" >100</text>
<line x1="200.40" y1="410.47" x2="200.40" y2="413.77" stroke="#222" stroke-width="0.9"/>
<text x="0" y="0" font-size="8.6" text-anchor="start" fill="#222" stroke="#222" stroke-width="0.1" transform="translate(199.40 420.39) rotate(61) scale(1.13 1)" >10</text>
<line x1="211.20" y1="407.80" x2="211.20" y2="411.10" stroke="#222" stroke-width="0.9"/>
<text x="0" y="0" font-size="8.6" text-anchor="start" fill="#222" stroke="#222" stroke-width="0.1" transform="translate(210.20 417.30) rotate(61) scale(1.13 1)" >0</text>
<line x1="222.00" y1="405.12" x2="222.00" y2="408.42" stroke="#222" stroke-width="0.9"/>
<text x="0" y="0" font-size="8.6" text-anchor="start" fill="#222" stroke="#222" stroke-width="0.1" transform="translate(221.00 414.22) rotate(61) scale(1.13 1)" >&#8722;10</text>
<g transform="translate(94.00 480.30) rotate(7.7) skewX(-7)">
<text x="0" y="-16.22" font-size="9.8" text-anchor="middle" fill="#1a1a1a" stroke="#1a1a1a" stroke-width="0.45" textLength="57" lengthAdjust="spacingAndGlyphs">HD component 2</text>
<text x="0" y="-3.12" font-size="9.8" text-anchor="middle" fill="#1a1a1a" stroke="#1a1a1a" stroke-width="0.45" textLength="37" lengthAdjust="spacingAndGlyphs">(pHERV-W,</text>
<text x="0" y="9.98" font-size="9.8" text-anchor="middle" fill="#1a1a1a" stroke="#1a1a1a" stroke-width="0.45" textLength="45" lengthAdjust="spacingAndGlyphs">OCT4, CD133,</text>
<text x="0" y="23.08" font-size="9.8" text-anchor="middle" fill="#1a1a1a" stroke="#1a1a1a" stroke-width="0.45" textLength="49" lengthAdjust="spacingAndGlyphs">KLF4, NANOG)</text>
</g>
<g transform="translate(217.30 463.60) rotate(-10.9) skewX(-3)">
<text x="0" y="-3.47" font-size="9.8" text-anchor="middle" fill="#1a1a1a" stroke="#1a1a1a" stroke-width="0.45" textLength="56.5" lengthAdjust="spacingAndGlyphs">HD component 3</text>
<text x="0" y="10.33" font-size="9.8" text-anchor="middle" fill="#1a1a1a" stroke="#1a1a1a" stroke-width="0.45" textLength="58" lengthAdjust="spacingAndGlyphs">(HERV-K, SYN-1)</text>
</g>
<line x1="327.00" y1="336.20" x2="330.80" y2="336.20" stroke="#222" stroke-width="0.9"/>
<text x="0" y="0" font-size="8.6" text-anchor="end" fill="#222" stroke="#222" stroke-width="0.1" transform="translate(323.80 339.30) rotate(0) scale(1.13 1)" >1</text>
<line x1="327.00" y1="362.00" x2="330.80" y2="362.00" stroke="#222" stroke-width="0.9"/>
<text x="0" y="0" font-size="8.6" text-anchor="end" fill="#222" stroke="#222" stroke-width="0.1" transform="translate(323.80 365.10) rotate(0) scale(1.13 1)" >0</text>
<line x1="327.00" y1="388.70" x2="330.80" y2="388.70" stroke="#222" stroke-width="0.9"/>
<text x="0" y="0" font-size="8.6" text-anchor="end" fill="#222" stroke="#222" stroke-width="0.1" transform="translate(323.80 391.80) rotate(0) scale(1.13 1)" >&#8722;1</text>
<text x="0" y="0" font-size="8.9" text-anchor="middle" fill="#1a1a1a" stroke="#1a1a1a" stroke-width="0.45" textLength="58.0" lengthAdjust="spacingAndGlyphs" transform="translate(275.60 362.2) rotate(-90)">CLL component 3</text>
<text x="0" y="0" font-size="8.9" text-anchor="middle" fill="#1a1a1a" stroke="#1a1a1a" stroke-width="0.45" textLength="57.0" lengthAdjust="spacingAndGlyphs" transform="translate(289.00 362.2) rotate(-90)">(HERV-K, SYN-1,</text>
<text x="0" y="0" font-size="8.9" text-anchor="middle" fill="#1a1a1a" stroke="#1a1a1a" stroke-width="0.45" textLength="32.0" lengthAdjust="spacingAndGlyphs" transform="translate(302.40 362.2) rotate(-90)">(&#8722;)KLF4)</text>
<line x1="344.00" y1="410.77" x2="344.00" y2="413.87" stroke="#222" stroke-width="0.9"/>
<text x="0" y="0" font-size="8.6" text-anchor="middle" fill="#222" stroke="#222" stroke-width="0.1" transform="translate(342.50 426.17) rotate(0) scale(1.05 1)" >&#8722;1</text>
<line x1="359.40" y1="412.60" x2="359.40" y2="415.70" stroke="#222" stroke-width="0.9"/>
<text x="0" y="0" font-size="8.6" text-anchor="middle" fill="#222" stroke="#222" stroke-width="0.1" transform="translate(359.40 428.00) rotate(0) scale(1.05 1)" >0</text>
<line x1="375.80" y1="414.55" x2="375.80" y2="417.65" stroke="#222" stroke-width="0.9"/>
<text x="0" y="0" font-size="8.6" text-anchor="middle" fill="#222" stroke="#222" stroke-width="0.1" transform="translate(375.80 429.95) rotate(0) scale(1.05 1)" >1</text>
<line x1="413.80" y1="419.06" x2="413.80" y2="422.16" stroke="#222" stroke-width="0.9"/>
<text x="0" y="0" font-size="8.6" text-anchor="middle" fill="#222" stroke="#222" stroke-width="0.1" transform="translate(412.80 434.46) rotate(0) scale(1.05 1)" >10</text>
<line x1="421.60" y1="419.10" x2="421.60" y2="422.20" stroke="#222" stroke-width="0.9"/>
<text x="0" y="0" font-size="8.6" text-anchor="middle" fill="#222" stroke="#222" stroke-width="0.1" transform="translate(426.00 433.20) rotate(-15) scale(1.13 1)" >10</text>
<line x1="452.80" y1="411.37" x2="452.80" y2="414.47" stroke="#222" stroke-width="0.9"/>
<text x="0" y="0" font-size="8.6" text-anchor="middle" fill="#222" stroke="#222" stroke-width="0.1" transform="translate(454.40 425.47) rotate(-15) scale(1.13 1)" >1</text>
<line x1="464.90" y1="408.37" x2="464.90" y2="411.47" stroke="#222" stroke-width="0.9"/>
<text x="0" y="0" font-size="8.6" text-anchor="middle" fill="#222" stroke="#222" stroke-width="0.1" transform="translate(466.50 422.47) rotate(-15) scale(1.13 1)" >0</text>
<line x1="476.20" y1="405.57" x2="476.20" y2="408.67" stroke="#222" stroke-width="0.9"/>
<text x="0" y="0" font-size="8.6" text-anchor="middle" fill="#222" stroke="#222" stroke-width="0.1" transform="translate(477.60 419.67) rotate(-15) scale(1.13 1)" >&#8722;1</text>
<g transform="translate(359.40 458.30) rotate(8.3) skewX(-6)">
<text x="0" y="-9.97" font-size="9.8" text-anchor="middle" fill="#1a1a1a" stroke="#1a1a1a" stroke-width="0.45" textLength="59" lengthAdjust="spacingAndGlyphs">CLL component 2</text>
<text x="0" y="3.43" font-size="9.8" text-anchor="middle" fill="#1a1a1a" stroke="#1a1a1a" stroke-width="0.45" textLength="36.5" lengthAdjust="spacingAndGlyphs">(pHERV-W,</text>
<text x="0" y="16.83" font-size="9.8" text-anchor="middle" fill="#1a1a1a" stroke="#1a1a1a" stroke-width="0.45" textLength="47" lengthAdjust="spacingAndGlyphs">CD133, KLF4)</text>
</g>
<g transform="translate(473.00 459.00) rotate(-10.3) skewX(-3)">
<text x="0" y="-9.77" font-size="9.8" text-anchor="middle" fill="#1a1a1a" stroke="#1a1a1a" stroke-width="0.45" textLength="59.5" lengthAdjust="spacingAndGlyphs">CLL component 1</text>
<text x="0" y="3.43" font-size="9.8" text-anchor="middle" fill="#1a1a1a" stroke="#1a1a1a" stroke-width="0.45" textLength="61" lengthAdjust="spacingAndGlyphs">(HERV-K, HERV-H</text>
<text x="0" y="16.63" font-size="9.8" text-anchor="middle" fill="#1a1a1a" stroke="#1a1a1a" stroke-width="0.45" textLength="21" lengthAdjust="spacingAndGlyphs">OCT4)</text>
</g>
<circle cx="146.0" cy="528.2" r="6.2" fill="#ffffff" stroke="#333" stroke-width="0.9"/>
<circle cx="186.5" cy="528.2" r="6.2" fill="#3daa35" stroke="#333" stroke-width="0.9"/>
<circle cx="251.3" cy="528.2" r="6.2" fill="#c8102e" stroke="#333" stroke-width="0.9"/>
<circle cx="333.9" cy="528.2" r="6.2" fill="#1c4a8c" stroke="#333" stroke-width="0.9"/>
<text x="156.3" y="531.7" font-size="9.0" fill="#222">HD</text>
<text x="196.3" y="531.7" font-size="9.0" fill="#222">untreated</text>
<text x="261.3" y="531.7" font-size="9.0" fill="#222">chemotherapy</text>
<text x="344.6" y="531.7" font-size="9.0" fill="#222">ibrutinib</text>
<line x1="79.50" y1="305.00" x2="139.30" y2="291.00" stroke="#111" stroke-width="1.8" stroke-linecap="round"/>
<line x1="139.30" y1="291.00" x2="224.50" y2="301.00" stroke="#111" stroke-width="1.8" stroke-linecap="round"/>
<line x1="79.50" y1="305.00" x2="79.50" y2="408.00" stroke="#111" stroke-width="1.8" stroke-linecap="round"/>
<line x1="224.50" y1="301.00" x2="224.50" y2="404.00" stroke="#111" stroke-width="1.8" stroke-linecap="round"/>
<line x1="79.50" y1="408.00" x2="139.30" y2="394.00" stroke="#111" stroke-width="1.8" stroke-linecap="round"/>
<line x1="139.30" y1="394.00" x2="224.50" y2="404.00" stroke="#111" stroke-width="1.8" stroke-linecap="round"/>
<line x1="79.50" y1="408.00" x2="166.00" y2="418.50" stroke="#111" stroke-width="1.8" stroke-linecap="round"/>
<line x1="166.00" y1="418.50" x2="224.50" y2="404.00" stroke="#111" stroke-width="1.8" stroke-linecap="round"/>
<line x1="139.30" y1="291.00" x2="139.30" y2="394.00" stroke="#111" stroke-width="1.8" stroke-linecap="round"/>
<line x1="330.80" y1="303.90" x2="391.50" y2="289.70" stroke="#111" stroke-width="1.8" stroke-linecap="round"/>
<line x1="391.50" y1="289.70" x2="479.30" y2="299.50" stroke="#111" stroke-width="1.8" stroke-linecap="round"/>
<line x1="330.80" y1="303.90" x2="330.80" y2="408.70" stroke="#111" stroke-width="1.8" stroke-linecap="round"/>
<line x1="479.30" y1="299.50" x2="479.30" y2="404.30" stroke="#111" stroke-width="1.8" stroke-linecap="round"/>
<line x1="330.80" y1="408.70" x2="391.50" y2="394.50" stroke="#111" stroke-width="1.8" stroke-linecap="round"/>
<line x1="391.50" y1="394.50" x2="479.30" y2="404.30" stroke="#111" stroke-width="1.8" stroke-linecap="round"/>
<line x1="330.80" y1="408.70" x2="419.20" y2="419.20" stroke="#111" stroke-width="1.8" stroke-linecap="round"/>
<line x1="419.20" y1="419.20" x2="479.30" y2="404.30" stroke="#111" stroke-width="1.8" stroke-linecap="round"/>
<rect x="0.5" y="0.5" width="519" height="775" fill="none" stroke="#474747" stroke-width="1"/>
</svg>
</body></html>
